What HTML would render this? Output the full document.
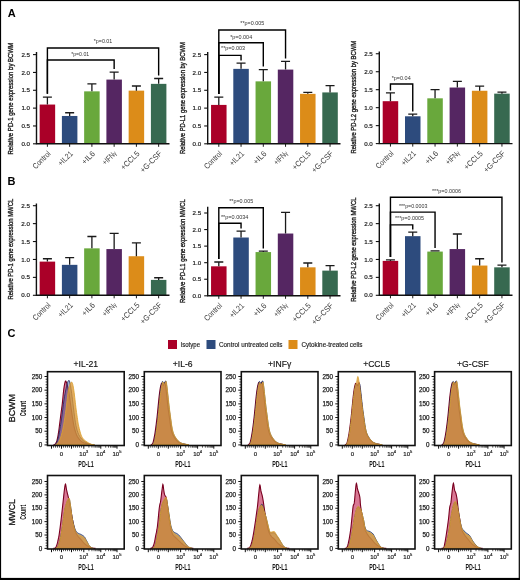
<!DOCTYPE html><html><head><meta charset="utf-8"><title>Figure</title><style>html,body{margin:0;padding:0;background:#fff;overflow:hidden}svg{display:block;filter:blur(0.3px)}text{font-family:"Liberation Sans",sans-serif}</style></head><body>
<svg width="520" height="580" viewBox="0 0 520 580">
<rect x="0" y="0" width="520" height="580" fill="#fff"/>
<text x="7.80" y="17.00" font-size="11" font-weight="bold" fill="#000">A</text>
<text x="7.60" y="185.30" font-size="11" font-weight="bold" fill="#000">B</text>
<text x="7.60" y="336.90" font-size="11" font-weight="bold" fill="#000">C</text>
<rect x="39.65" y="104.55" width="15.5" height="39.25" fill="#aa0028"/>
<path d="M47.40 104.55V97.06M42.90 97.06H51.90" stroke="#1a1a1a" stroke-width="1.3" fill="none"/>
<path d="M47.40 143.80V146.80" stroke="#1a1a1a" stroke-width="1"/>
<text x="51.10" y="154.20" font-size="8.0" text-anchor="end" textLength="21.66" lengthAdjust="spacingAndGlyphs" transform="rotate(-45 51.1 154.20000000000002)" fill="#3c3c3c">Control</text>
<rect x="61.90" y="115.97" width="15.5" height="27.83" fill="#2d4b7d"/>
<path d="M69.65 115.97V112.76M65.15 112.76H74.15" stroke="#1a1a1a" stroke-width="1.3" fill="none"/>
<path d="M69.65 143.80V146.80" stroke="#1a1a1a" stroke-width="1"/>
<text x="73.35" y="154.20" font-size="8.0" text-anchor="end" textLength="17.41" lengthAdjust="spacingAndGlyphs" transform="rotate(-45 73.35000000000001 154.20000000000002)" fill="#3c3c3c">+IL21</text>
<rect x="84.15" y="91.35" width="15.5" height="52.45" fill="#69a83c"/>
<path d="M91.90 91.35V83.86M87.40 83.86H96.40" stroke="#1a1a1a" stroke-width="1.3" fill="none"/>
<path d="M91.90 143.80V146.80" stroke="#1a1a1a" stroke-width="1"/>
<text x="95.60" y="154.20" font-size="8.0" text-anchor="end" textLength="15.32" lengthAdjust="spacingAndGlyphs" transform="rotate(-45 95.60000000000001 154.20000000000002)" fill="#3c3c3c">+IL6</text>
<rect x="106.40" y="79.58" width="15.5" height="64.22" fill="#552662"/>
<path d="M114.15 79.58V72.08M109.65 72.08H118.65" stroke="#1a1a1a" stroke-width="1.3" fill="none"/>
<path d="M114.15 143.80V146.80" stroke="#1a1a1a" stroke-width="1"/>
<text x="117.05" y="153.80" font-size="8.0" text-anchor="end" textLength="16.6" lengthAdjust="spacingAndGlyphs" transform="rotate(-45 117.05000000000001 153.8)" fill="#3c3c3c">+IFN<tspan font-size="6.5">&#947;</tspan></text>
<rect x="128.65" y="90.64" width="15.5" height="53.16" fill="#dc8c19"/>
<path d="M136.40 90.64V86.00M131.90 86.00H140.90" stroke="#1a1a1a" stroke-width="1.3" fill="none"/>
<path d="M136.40 143.80V146.80" stroke="#1a1a1a" stroke-width="1"/>
<text x="140.10" y="154.20" font-size="8.0" text-anchor="end" textLength="23.01" lengthAdjust="spacingAndGlyphs" transform="rotate(-45 140.1 154.20000000000002)" fill="#3c3c3c">+CCL5</text>
<rect x="150.90" y="83.86" width="15.5" height="59.94" fill="#376950"/>
<path d="M158.65 83.86V78.51M154.15 78.51H163.15" stroke="#1a1a1a" stroke-width="1.3" fill="none"/>
<path d="M158.65 143.80V146.80" stroke="#1a1a1a" stroke-width="1"/>
<text x="162.35" y="154.20" font-size="8.0" text-anchor="end" textLength="26.9" lengthAdjust="spacingAndGlyphs" transform="rotate(-45 162.35 154.20000000000002)" fill="#3c3c3c">+G-CSF</text>
<path d="M36.50 52.00V143.80H169.50" stroke="#111" stroke-width="1.4" fill="none"/>
<path d="M33.00 143.80H36.50" stroke="#111" stroke-width="1.1"/>
<text x="30.00" y="145.90" font-size="6.2" text-anchor="end" fill="#222" stroke="#222" stroke-width="0.2">0.0</text>
<path d="M33.00 125.96H36.50" stroke="#111" stroke-width="1.1"/>
<text x="30.00" y="128.06" font-size="6.2" text-anchor="end" fill="#222" stroke="#222" stroke-width="0.2">0.5</text>
<path d="M33.00 108.12H36.50" stroke="#111" stroke-width="1.1"/>
<text x="30.00" y="110.22" font-size="6.2" text-anchor="end" fill="#222" stroke="#222" stroke-width="0.2">1.0</text>
<path d="M33.00 90.28H36.50" stroke="#111" stroke-width="1.1"/>
<text x="30.00" y="92.38" font-size="6.2" text-anchor="end" fill="#222" stroke="#222" stroke-width="0.2">1.5</text>
<path d="M33.00 72.44H36.50" stroke="#111" stroke-width="1.1"/>
<text x="30.00" y="74.54" font-size="6.2" text-anchor="end" fill="#222" stroke="#222" stroke-width="0.2">2.0</text>
<path d="M33.00 54.60H36.50" stroke="#111" stroke-width="1.1"/>
<text x="30.00" y="56.70" font-size="6.2" text-anchor="end" fill="#222" stroke="#222" stroke-width="0.2">2.5</text>
<text x="13.20" y="98.70" font-size="8" text-anchor="middle" textLength="111.7" lengthAdjust="spacingAndGlyphs" transform="rotate(-90 13.2 98.7)" fill="#1a1a1a" stroke="#1a1a1a" stroke-width="0.35">Relative PD-1 gene expression by BCWM</text>
<path d="M47.40 93.70V48.00H158.65V75.50" stroke="#000" stroke-width="1.4" fill="none"/>
<text x="103.00" y="43.20" font-size="5.4" text-anchor="middle" textLength="18.5" lengthAdjust="spacingAndGlyphs" fill="#333">*p=0.01</text>
<path d="M47.40 93.70V60.00H114.15V69.00" stroke="#000" stroke-width="1.4" fill="none"/>
<text x="80.20" y="56.20" font-size="5.4" text-anchor="middle" textLength="18.0" lengthAdjust="spacingAndGlyphs" fill="#333">*p=0.01</text>
<rect x="211.05" y="104.91" width="15.5" height="38.89" fill="#aa0028"/>
<path d="M218.80 104.91V97.06M214.30 97.06H223.30" stroke="#1a1a1a" stroke-width="1.3" fill="none"/>
<path d="M218.80 143.80V146.80" stroke="#1a1a1a" stroke-width="1"/>
<text x="222.50" y="154.20" font-size="8.0" text-anchor="end" textLength="21.66" lengthAdjust="spacingAndGlyphs" transform="rotate(-45 222.5 154.20000000000002)" fill="#3c3c3c">Control</text>
<rect x="233.30" y="68.87" width="15.5" height="74.93" fill="#2d4b7d"/>
<path d="M241.05 68.87V63.16M236.55 63.16H245.55" stroke="#1a1a1a" stroke-width="1.3" fill="none"/>
<path d="M241.05 143.80V146.80" stroke="#1a1a1a" stroke-width="1"/>
<text x="244.75" y="154.20" font-size="8.0" text-anchor="end" textLength="17.41" lengthAdjust="spacingAndGlyphs" transform="rotate(-45 244.75 154.20000000000002)" fill="#3c3c3c">+IL21</text>
<rect x="255.55" y="81.36" width="15.5" height="62.44" fill="#69a83c"/>
<path d="M263.30 81.36V69.59M258.80 69.59H267.80" stroke="#1a1a1a" stroke-width="1.3" fill="none"/>
<path d="M263.30 143.80V146.80" stroke="#1a1a1a" stroke-width="1"/>
<text x="267.00" y="154.20" font-size="8.0" text-anchor="end" textLength="15.32" lengthAdjust="spacingAndGlyphs" transform="rotate(-45 267.0 154.20000000000002)" fill="#3c3c3c">+IL6</text>
<rect x="277.80" y="69.59" width="15.5" height="74.21" fill="#552662"/>
<path d="M285.55 69.59V61.38M281.05 61.38H290.05" stroke="#1a1a1a" stroke-width="1.3" fill="none"/>
<path d="M285.55 143.80V146.80" stroke="#1a1a1a" stroke-width="1"/>
<text x="288.45" y="153.80" font-size="8.0" text-anchor="end" textLength="16.6" lengthAdjust="spacingAndGlyphs" transform="rotate(-45 288.45 153.8)" fill="#3c3c3c">+IFN<tspan font-size="6.5">&#947;</tspan></text>
<rect x="300.05" y="93.85" width="15.5" height="49.95" fill="#dc8c19"/>
<path d="M307.80 93.85V92.42M303.30 92.42H312.30" stroke="#1a1a1a" stroke-width="1.3" fill="none"/>
<path d="M307.80 143.80V146.80" stroke="#1a1a1a" stroke-width="1"/>
<text x="311.50" y="154.20" font-size="8.0" text-anchor="end" textLength="23.01" lengthAdjust="spacingAndGlyphs" transform="rotate(-45 311.5 154.20000000000002)" fill="#3c3c3c">+CCL5</text>
<rect x="322.30" y="92.42" width="15.5" height="51.38" fill="#376950"/>
<path d="M330.05 92.42V85.64M325.55 85.64H334.55" stroke="#1a1a1a" stroke-width="1.3" fill="none"/>
<path d="M330.05 143.80V146.80" stroke="#1a1a1a" stroke-width="1"/>
<text x="333.75" y="154.20" font-size="8.0" text-anchor="end" textLength="26.9" lengthAdjust="spacingAndGlyphs" transform="rotate(-45 333.75 154.20000000000002)" fill="#3c3c3c">+G-CSF</text>
<path d="M207.70 52.00V143.80H340.50" stroke="#111" stroke-width="1.4" fill="none"/>
<path d="M204.20 143.80H207.70" stroke="#111" stroke-width="1.1"/>
<text x="201.20" y="145.90" font-size="6.2" text-anchor="end" fill="#222" stroke="#222" stroke-width="0.2">0.0</text>
<path d="M204.20 125.96H207.70" stroke="#111" stroke-width="1.1"/>
<text x="201.20" y="128.06" font-size="6.2" text-anchor="end" fill="#222" stroke="#222" stroke-width="0.2">0.5</text>
<path d="M204.20 108.12H207.70" stroke="#111" stroke-width="1.1"/>
<text x="201.20" y="110.22" font-size="6.2" text-anchor="end" fill="#222" stroke="#222" stroke-width="0.2">1.0</text>
<path d="M204.20 90.28H207.70" stroke="#111" stroke-width="1.1"/>
<text x="201.20" y="92.38" font-size="6.2" text-anchor="end" fill="#222" stroke="#222" stroke-width="0.2">1.5</text>
<path d="M204.20 72.44H207.70" stroke="#111" stroke-width="1.1"/>
<text x="201.20" y="74.54" font-size="6.2" text-anchor="end" fill="#222" stroke="#222" stroke-width="0.2">2.0</text>
<path d="M204.20 54.60H207.70" stroke="#111" stroke-width="1.1"/>
<text x="201.20" y="56.70" font-size="6.2" text-anchor="end" fill="#222" stroke="#222" stroke-width="0.2">2.5</text>
<text x="185.00" y="98.10" font-size="8" text-anchor="middle" textLength="111.9" lengthAdjust="spacingAndGlyphs" transform="rotate(-90 185 98.1)" fill="#1a1a1a" stroke="#1a1a1a" stroke-width="0.35">Relative PD-L1 gene expression by BCWM</text>
<path d="M218.80 94.00V30.00H285.55V58.50" stroke="#000" stroke-width="1.4" fill="none"/>
<text x="252.30" y="25.20" font-size="5.4" text-anchor="middle" textLength="24" lengthAdjust="spacingAndGlyphs" fill="#333">**p=0.005</text>
<path d="M218.80 94.00V42.70H263.30V66.50" stroke="#000" stroke-width="1.4" fill="none"/>
<text x="241.20" y="38.70" font-size="5.4" text-anchor="middle" textLength="22" lengthAdjust="spacingAndGlyphs" fill="#333">*p=0.004</text>
<path d="M218.80 94.00V55.40H241.05V60.50" stroke="#000" stroke-width="1.4" fill="none"/>
<text x="233.10" y="50.20" font-size="5.4" text-anchor="middle" textLength="24" lengthAdjust="spacingAndGlyphs" fill="#333">**p=0.003</text>
<rect x="382.70" y="101.19" width="15.5" height="42.41" fill="#aa0028"/>
<path d="M390.45 101.19V92.92M385.95 92.92H394.95" stroke="#1a1a1a" stroke-width="1.3" fill="none"/>
<path d="M390.45 143.60V146.60" stroke="#1a1a1a" stroke-width="1"/>
<text x="394.15" y="154.00" font-size="8.0" text-anchor="end" textLength="21.66" lengthAdjust="spacingAndGlyphs" transform="rotate(-45 394.15 154.0)" fill="#3c3c3c">Control</text>
<rect x="405.00" y="116.29" width="15.5" height="27.31" fill="#2d4b7d"/>
<path d="M412.75 116.29V114.13M408.25 114.13H417.25" stroke="#1a1a1a" stroke-width="1.3" fill="none"/>
<path d="M412.75 143.60V146.60" stroke="#1a1a1a" stroke-width="1"/>
<text x="416.45" y="154.00" font-size="8.0" text-anchor="end" textLength="17.41" lengthAdjust="spacingAndGlyphs" transform="rotate(-45 416.45 154.0)" fill="#3c3c3c">+IL21</text>
<rect x="427.30" y="98.32" width="15.5" height="45.28" fill="#69a83c"/>
<path d="M435.05 98.32V89.69M430.55 89.69H439.55" stroke="#1a1a1a" stroke-width="1.3" fill="none"/>
<path d="M435.05 143.60V146.60" stroke="#1a1a1a" stroke-width="1"/>
<text x="438.75" y="154.00" font-size="8.0" text-anchor="end" textLength="15.32" lengthAdjust="spacingAndGlyphs" transform="rotate(-45 438.75 154.0)" fill="#3c3c3c">+IL6</text>
<rect x="449.60" y="87.53" width="15.5" height="56.07" fill="#552662"/>
<path d="M457.35 87.53V81.42M452.85 81.42H461.85" stroke="#1a1a1a" stroke-width="1.3" fill="none"/>
<path d="M457.35 143.60V146.60" stroke="#1a1a1a" stroke-width="1"/>
<text x="460.25" y="153.60" font-size="8.0" text-anchor="end" textLength="16.6" lengthAdjust="spacingAndGlyphs" transform="rotate(-45 460.25 153.6)" fill="#3c3c3c">+IFN<tspan font-size="6.5">&#947;</tspan></text>
<rect x="471.90" y="90.77" width="15.5" height="52.83" fill="#dc8c19"/>
<path d="M479.65 90.77V86.10M475.15 86.10H484.15" stroke="#1a1a1a" stroke-width="1.3" fill="none"/>
<path d="M479.65 143.60V146.60" stroke="#1a1a1a" stroke-width="1"/>
<text x="483.35" y="154.00" font-size="8.0" text-anchor="end" textLength="23.01" lengthAdjust="spacingAndGlyphs" transform="rotate(-45 483.34999999999997 154.0)" fill="#3c3c3c">+CCL5</text>
<rect x="494.20" y="93.64" width="15.5" height="49.96" fill="#376950"/>
<path d="M501.95 93.64V92.21M497.45 92.21H506.45" stroke="#1a1a1a" stroke-width="1.3" fill="none"/>
<path d="M501.95 143.60V146.60" stroke="#1a1a1a" stroke-width="1"/>
<text x="505.65" y="154.00" font-size="8.0" text-anchor="end" textLength="26.9" lengthAdjust="spacingAndGlyphs" transform="rotate(-45 505.65 154.0)" fill="#3c3c3c">+G-CSF</text>
<path d="M379.30 51.50V143.60H512.50" stroke="#111" stroke-width="1.4" fill="none"/>
<path d="M375.80 143.60H379.30" stroke="#111" stroke-width="1.1"/>
<text x="372.80" y="145.70" font-size="6.2" text-anchor="end" fill="#222" stroke="#222" stroke-width="0.2">0.0</text>
<path d="M375.80 125.63H379.30" stroke="#111" stroke-width="1.1"/>
<text x="372.80" y="127.73" font-size="6.2" text-anchor="end" fill="#222" stroke="#222" stroke-width="0.2">0.5</text>
<path d="M375.80 107.66H379.30" stroke="#111" stroke-width="1.1"/>
<text x="372.80" y="109.76" font-size="6.2" text-anchor="end" fill="#222" stroke="#222" stroke-width="0.2">1.0</text>
<path d="M375.80 89.69H379.30" stroke="#111" stroke-width="1.1"/>
<text x="372.80" y="91.79" font-size="6.2" text-anchor="end" fill="#222" stroke="#222" stroke-width="0.2">1.5</text>
<path d="M375.80 71.72H379.30" stroke="#111" stroke-width="1.1"/>
<text x="372.80" y="73.82" font-size="6.2" text-anchor="end" fill="#222" stroke="#222" stroke-width="0.2">2.0</text>
<path d="M375.80 53.75H379.30" stroke="#111" stroke-width="1.1"/>
<text x="372.80" y="55.85" font-size="6.2" text-anchor="end" fill="#222" stroke="#222" stroke-width="0.2">2.5</text>
<text x="356.40" y="97.20" font-size="8" text-anchor="middle" textLength="112.8" lengthAdjust="spacingAndGlyphs" transform="rotate(-90 356.4 97.2)" fill="#1a1a1a" stroke="#1a1a1a" stroke-width="0.35">Relative PD-L2 gene expression by BCWM</text>
<path d="M390.45 90.50V84.00H412.75V111.50" stroke="#000" stroke-width="1.4" fill="none"/>
<text x="401.20" y="80.20" font-size="5.4" text-anchor="middle" textLength="19" lengthAdjust="spacingAndGlyphs" fill="#333">*p=0.04</text>
<rect x="39.65" y="261.61" width="15.5" height="33.69" fill="#aa0028"/>
<path d="M47.40 261.61V258.74M42.90 258.74H51.90" stroke="#1a1a1a" stroke-width="1.3" fill="none"/>
<path d="M47.40 295.30V298.30" stroke="#1a1a1a" stroke-width="1"/>
<text x="51.10" y="305.70" font-size="8.0" text-anchor="end" textLength="21.66" lengthAdjust="spacingAndGlyphs" transform="rotate(-45 51.1 305.7)" fill="#3c3c3c">Control</text>
<rect x="61.90" y="264.84" width="15.5" height="30.46" fill="#2d4b7d"/>
<path d="M69.65 264.84V257.67M65.15 257.67H74.15" stroke="#1a1a1a" stroke-width="1.3" fill="none"/>
<path d="M69.65 295.30V298.30" stroke="#1a1a1a" stroke-width="1"/>
<text x="73.35" y="305.70" font-size="8.0" text-anchor="end" textLength="17.41" lengthAdjust="spacingAndGlyphs" transform="rotate(-45 73.35000000000001 305.7)" fill="#3c3c3c">+IL21</text>
<rect x="84.15" y="248.35" width="15.5" height="46.95" fill="#69a83c"/>
<path d="M91.90 248.35V236.52M87.40 236.52H96.40" stroke="#1a1a1a" stroke-width="1.3" fill="none"/>
<path d="M91.90 295.30V298.30" stroke="#1a1a1a" stroke-width="1"/>
<text x="95.60" y="305.70" font-size="8.0" text-anchor="end" textLength="15.32" lengthAdjust="spacingAndGlyphs" transform="rotate(-45 95.60000000000001 305.7)" fill="#3c3c3c">+IL6</text>
<rect x="106.40" y="249.07" width="15.5" height="46.23" fill="#552662"/>
<path d="M114.15 249.07V233.30M109.65 233.30H118.65" stroke="#1a1a1a" stroke-width="1.3" fill="none"/>
<path d="M114.15 295.30V298.30" stroke="#1a1a1a" stroke-width="1"/>
<text x="117.05" y="305.30" font-size="8.0" text-anchor="end" textLength="16.6" lengthAdjust="spacingAndGlyphs" transform="rotate(-45 117.05000000000001 305.3)" fill="#3c3c3c">+IFN<tspan font-size="6.5">&#947;</tspan></text>
<rect x="128.65" y="256.23" width="15.5" height="39.07" fill="#dc8c19"/>
<path d="M136.40 256.23V242.97M131.90 242.97H140.90" stroke="#1a1a1a" stroke-width="1.3" fill="none"/>
<path d="M136.40 295.30V298.30" stroke="#1a1a1a" stroke-width="1"/>
<text x="140.10" y="305.70" font-size="8.0" text-anchor="end" textLength="23.01" lengthAdjust="spacingAndGlyphs" transform="rotate(-45 140.1 305.7)" fill="#3c3c3c">+CCL5</text>
<rect x="150.90" y="279.89" width="15.5" height="15.41" fill="#376950"/>
<path d="M158.65 279.89V277.74M154.15 277.74H163.15" stroke="#1a1a1a" stroke-width="1.3" fill="none"/>
<path d="M158.65 295.30V298.30" stroke="#1a1a1a" stroke-width="1"/>
<text x="162.35" y="305.70" font-size="8.0" text-anchor="end" textLength="26.9" lengthAdjust="spacingAndGlyphs" transform="rotate(-45 162.35 305.7)" fill="#3c3c3c">+G-CSF</text>
<path d="M36.40 203.50V295.30H169.50" stroke="#111" stroke-width="1.4" fill="none"/>
<path d="M32.90 295.30H36.40" stroke="#111" stroke-width="1.1"/>
<text x="29.90" y="297.40" font-size="6.2" text-anchor="end" fill="#222" stroke="#222" stroke-width="0.2">0.0</text>
<path d="M32.90 277.38H36.40" stroke="#111" stroke-width="1.1"/>
<text x="29.90" y="279.48" font-size="6.2" text-anchor="end" fill="#222" stroke="#222" stroke-width="0.2">0.5</text>
<path d="M32.90 259.46H36.40" stroke="#111" stroke-width="1.1"/>
<text x="29.90" y="261.56" font-size="6.2" text-anchor="end" fill="#222" stroke="#222" stroke-width="0.2">1.0</text>
<path d="M32.90 241.54H36.40" stroke="#111" stroke-width="1.1"/>
<text x="29.90" y="243.64" font-size="6.2" text-anchor="end" fill="#222" stroke="#222" stroke-width="0.2">1.5</text>
<path d="M32.90 223.62H36.40" stroke="#111" stroke-width="1.1"/>
<text x="29.90" y="225.72" font-size="6.2" text-anchor="end" fill="#222" stroke="#222" stroke-width="0.2">2.0</text>
<path d="M32.90 205.70H36.40" stroke="#111" stroke-width="1.1"/>
<text x="29.90" y="207.80" font-size="6.2" text-anchor="end" fill="#222" stroke="#222" stroke-width="0.2">2.5</text>
<text x="13.20" y="249.20" font-size="8" text-anchor="middle" textLength="100.7" lengthAdjust="spacingAndGlyphs" transform="rotate(-90 13.2 249.2)" fill="#1a1a1a" stroke="#1a1a1a" stroke-width="0.35">Relative PD-1 gene expression MWCL</text>
<rect x="211.05" y="266.32" width="15.5" height="29.48" fill="#aa0028"/>
<path d="M218.80 266.32V262.02M214.30 262.02H223.30" stroke="#1a1a1a" stroke-width="1.3" fill="none"/>
<path d="M218.80 295.80V298.80" stroke="#1a1a1a" stroke-width="1"/>
<text x="222.50" y="306.20" font-size="8.0" text-anchor="end" textLength="21.66" lengthAdjust="spacingAndGlyphs" transform="rotate(-45 222.5 306.2)" fill="#3c3c3c">Control</text>
<rect x="233.30" y="237.51" width="15.5" height="58.29" fill="#2d4b7d"/>
<path d="M241.05 237.51V231.22M236.55 231.22H245.55" stroke="#1a1a1a" stroke-width="1.3" fill="none"/>
<path d="M241.05 295.80V298.80" stroke="#1a1a1a" stroke-width="1"/>
<text x="244.75" y="306.20" font-size="8.0" text-anchor="end" textLength="17.41" lengthAdjust="spacingAndGlyphs" transform="rotate(-45 244.75 306.2)" fill="#3c3c3c">+IL21</text>
<rect x="255.55" y="252.08" width="15.5" height="43.72" fill="#69a83c"/>
<path d="M263.30 252.08V251.09M258.80 251.09H267.80" stroke="#1a1a1a" stroke-width="1.3" fill="none"/>
<path d="M263.30 295.80V298.80" stroke="#1a1a1a" stroke-width="1"/>
<text x="267.00" y="306.20" font-size="8.0" text-anchor="end" textLength="15.32" lengthAdjust="spacingAndGlyphs" transform="rotate(-45 267.0 306.2)" fill="#3c3c3c">+IL6</text>
<rect x="277.80" y="233.53" width="15.5" height="62.27" fill="#552662"/>
<path d="M285.55 233.53V212.34M281.05 212.34H290.05" stroke="#1a1a1a" stroke-width="1.3" fill="none"/>
<path d="M285.55 295.80V298.80" stroke="#1a1a1a" stroke-width="1"/>
<text x="288.45" y="305.80" font-size="8.0" text-anchor="end" textLength="16.6" lengthAdjust="spacingAndGlyphs" transform="rotate(-45 288.45 305.8)" fill="#3c3c3c">+IFN<tspan font-size="6.5">&#947;</tspan></text>
<rect x="300.05" y="267.32" width="15.5" height="28.48" fill="#dc8c19"/>
<path d="M307.80 267.32V263.01M303.30 263.01H312.30" stroke="#1a1a1a" stroke-width="1.3" fill="none"/>
<path d="M307.80 295.80V298.80" stroke="#1a1a1a" stroke-width="1"/>
<text x="311.50" y="306.20" font-size="8.0" text-anchor="end" textLength="23.01" lengthAdjust="spacingAndGlyphs" transform="rotate(-45 311.5 306.2)" fill="#3c3c3c">+CCL5</text>
<rect x="322.30" y="270.63" width="15.5" height="25.17" fill="#376950"/>
<path d="M330.05 270.63V265.66M325.55 265.66H334.55" stroke="#1a1a1a" stroke-width="1.3" fill="none"/>
<path d="M330.05 295.80V298.80" stroke="#1a1a1a" stroke-width="1"/>
<text x="333.75" y="306.20" font-size="8.0" text-anchor="end" textLength="26.9" lengthAdjust="spacingAndGlyphs" transform="rotate(-45 333.75 306.2)" fill="#3c3c3c">+G-CSF</text>
<path d="M207.70 206.80V295.80H340.50" stroke="#111" stroke-width="1.4" fill="none"/>
<path d="M204.20 295.80H207.70" stroke="#111" stroke-width="1.1"/>
<text x="201.20" y="297.90" font-size="6.2" text-anchor="end" fill="#222" stroke="#222" stroke-width="0.2">0.0</text>
<path d="M204.20 279.24H207.70" stroke="#111" stroke-width="1.1"/>
<text x="201.20" y="281.34" font-size="6.2" text-anchor="end" fill="#222" stroke="#222" stroke-width="0.2">0.5</text>
<path d="M204.20 262.68H207.70" stroke="#111" stroke-width="1.1"/>
<text x="201.20" y="264.78" font-size="6.2" text-anchor="end" fill="#222" stroke="#222" stroke-width="0.2">1.0</text>
<path d="M204.20 246.12H207.70" stroke="#111" stroke-width="1.1"/>
<text x="201.20" y="248.22" font-size="6.2" text-anchor="end" fill="#222" stroke="#222" stroke-width="0.2">1.5</text>
<path d="M204.20 229.56H207.70" stroke="#111" stroke-width="1.1"/>
<text x="201.20" y="231.66" font-size="6.2" text-anchor="end" fill="#222" stroke="#222" stroke-width="0.2">2.0</text>
<path d="M204.20 213.00H207.70" stroke="#111" stroke-width="1.1"/>
<text x="201.20" y="215.10" font-size="6.2" text-anchor="end" fill="#222" stroke="#222" stroke-width="0.2">2.5</text>
<text x="185.00" y="251.10" font-size="8" text-anchor="middle" textLength="103.6" lengthAdjust="spacingAndGlyphs" transform="rotate(-90 185 251.1)" fill="#1a1a1a" stroke="#1a1a1a" stroke-width="0.35">Relative PD-L1 gene expression MWCL</text>
<path d="M218.80 259.00V207.80H263.30V248.50" stroke="#000" stroke-width="1.4" fill="none"/>
<text x="241.20" y="203.40" font-size="5.4" text-anchor="middle" textLength="24" lengthAdjust="spacingAndGlyphs" fill="#333">**p=0.005</text>
<path d="M218.80 259.00V223.20H241.05V228.50" stroke="#000" stroke-width="1.4" fill="none"/>
<text x="234.70" y="218.80" font-size="5.4" text-anchor="middle" textLength="27.5" lengthAdjust="spacingAndGlyphs" fill="#333">**p=0.0034</text>
<rect x="382.70" y="260.89" width="15.5" height="34.41" fill="#aa0028"/>
<path d="M390.45 260.89V259.82M385.95 259.82H394.95" stroke="#1a1a1a" stroke-width="1.3" fill="none"/>
<path d="M390.45 295.30V298.30" stroke="#1a1a1a" stroke-width="1"/>
<text x="394.15" y="305.70" font-size="8.0" text-anchor="end" textLength="21.66" lengthAdjust="spacingAndGlyphs" transform="rotate(-45 394.15 305.7)" fill="#3c3c3c">Control</text>
<rect x="405.00" y="236.16" width="15.5" height="59.14" fill="#2d4b7d"/>
<path d="M412.75 236.16V232.22M408.25 232.22H417.25" stroke="#1a1a1a" stroke-width="1.3" fill="none"/>
<path d="M412.75 295.30V298.30" stroke="#1a1a1a" stroke-width="1"/>
<text x="416.45" y="305.70" font-size="8.0" text-anchor="end" textLength="17.41" lengthAdjust="spacingAndGlyphs" transform="rotate(-45 416.45 305.7)" fill="#3c3c3c">+IL21</text>
<rect x="427.30" y="251.58" width="15.5" height="43.72" fill="#69a83c"/>
<path d="M435.05 251.58V250.86M430.55 250.86H439.55" stroke="#1a1a1a" stroke-width="1.3" fill="none"/>
<path d="M435.05 295.30V298.30" stroke="#1a1a1a" stroke-width="1"/>
<text x="438.75" y="305.70" font-size="8.0" text-anchor="end" textLength="15.32" lengthAdjust="spacingAndGlyphs" transform="rotate(-45 438.75 305.7)" fill="#3c3c3c">+IL6</text>
<rect x="449.60" y="249.07" width="15.5" height="46.23" fill="#552662"/>
<path d="M457.35 249.07V234.01M452.85 234.01H461.85" stroke="#1a1a1a" stroke-width="1.3" fill="none"/>
<path d="M457.35 295.30V298.30" stroke="#1a1a1a" stroke-width="1"/>
<text x="460.25" y="305.30" font-size="8.0" text-anchor="end" textLength="16.6" lengthAdjust="spacingAndGlyphs" transform="rotate(-45 460.25 305.3)" fill="#3c3c3c">+IFN<tspan font-size="6.5">&#947;</tspan></text>
<rect x="471.90" y="265.55" width="15.5" height="29.75" fill="#dc8c19"/>
<path d="M479.65 265.55V258.74M475.15 258.74H484.15" stroke="#1a1a1a" stroke-width="1.3" fill="none"/>
<path d="M479.65 295.30V298.30" stroke="#1a1a1a" stroke-width="1"/>
<text x="483.35" y="305.70" font-size="8.0" text-anchor="end" textLength="23.01" lengthAdjust="spacingAndGlyphs" transform="rotate(-45 483.34999999999997 305.7)" fill="#3c3c3c">+CCL5</text>
<rect x="494.20" y="267.34" width="15.5" height="27.96" fill="#376950"/>
<path d="M501.95 267.34V265.19M497.45 265.19H506.45" stroke="#1a1a1a" stroke-width="1.3" fill="none"/>
<path d="M501.95 295.30V298.30" stroke="#1a1a1a" stroke-width="1"/>
<text x="505.65" y="305.70" font-size="8.0" text-anchor="end" textLength="26.9" lengthAdjust="spacingAndGlyphs" transform="rotate(-45 505.65 305.7)" fill="#3c3c3c">+G-CSF</text>
<path d="M379.30 203.50V295.30H512.50" stroke="#111" stroke-width="1.4" fill="none"/>
<path d="M375.80 295.30H379.30" stroke="#111" stroke-width="1.1"/>
<text x="372.80" y="297.40" font-size="6.2" text-anchor="end" fill="#222" stroke="#222" stroke-width="0.2">0.0</text>
<path d="M375.80 277.38H379.30" stroke="#111" stroke-width="1.1"/>
<text x="372.80" y="279.48" font-size="6.2" text-anchor="end" fill="#222" stroke="#222" stroke-width="0.2">0.5</text>
<path d="M375.80 259.46H379.30" stroke="#111" stroke-width="1.1"/>
<text x="372.80" y="261.56" font-size="6.2" text-anchor="end" fill="#222" stroke="#222" stroke-width="0.2">1.0</text>
<path d="M375.80 241.54H379.30" stroke="#111" stroke-width="1.1"/>
<text x="372.80" y="243.64" font-size="6.2" text-anchor="end" fill="#222" stroke="#222" stroke-width="0.2">1.5</text>
<path d="M375.80 223.62H379.30" stroke="#111" stroke-width="1.1"/>
<text x="372.80" y="225.72" font-size="6.2" text-anchor="end" fill="#222" stroke="#222" stroke-width="0.2">2.0</text>
<path d="M375.80 205.70H379.30" stroke="#111" stroke-width="1.1"/>
<text x="372.80" y="207.80" font-size="6.2" text-anchor="end" fill="#222" stroke="#222" stroke-width="0.2">2.5</text>
<text x="356.40" y="249.60" font-size="8" text-anchor="middle" textLength="104.1" lengthAdjust="spacingAndGlyphs" transform="rotate(-90 356.4 249.6)" fill="#1a1a1a" stroke="#1a1a1a" stroke-width="0.35">Relative PD-L2 gene expression MWCL</text>
<path d="M390.45 257.00V197.30H501.95V262.50" stroke="#000" stroke-width="1.4" fill="none"/>
<text x="446.50" y="192.80" font-size="5.4" text-anchor="middle" textLength="29" lengthAdjust="spacingAndGlyphs" fill="#333">***p=0.0006</text>
<path d="M390.45 257.00V212.10H435.05V248.00" stroke="#000" stroke-width="1.4" fill="none"/>
<text x="413.20" y="207.60" font-size="5.4" text-anchor="middle" textLength="28.5" lengthAdjust="spacingAndGlyphs" fill="#333">***p=0.0003</text>
<path d="M390.45 257.00V224.90H412.75V229.50" stroke="#000" stroke-width="1.4" fill="none"/>
<text x="409.50" y="220.10" font-size="5.4" text-anchor="middle" textLength="29" lengthAdjust="spacingAndGlyphs" fill="#333">***p=0.0005</text>
<clipPath id="c47_371"><rect x="47.5" y="371.7" width="76.7" height="73.8"/></clipPath>
<g clip-path="url(#c47_371)">
<path d="M53.50 444.90L53.50 444.90L53.77 444.79L54.15 444.64L54.58 444.42L55.00 444.08L55.39 443.70L55.79 443.28L56.19 442.64L56.60 441.62L57.02 440.15L57.46 438.33L57.89 436.24L58.30 433.96L58.69 431.38L59.08 428.50L59.44 425.55L59.80 422.74L60.14 420.10L60.47 417.54L60.79 415.04L61.10 412.62L61.40 410.37L61.70 408.27L62.00 406.09L62.30 403.59L62.62 400.49L62.96 397.00L63.29 393.59L63.60 390.73L63.87 388.56L64.12 386.83L64.36 385.40L64.60 384.16L64.83 383.06L65.05 382.16L65.27 381.51L65.50 381.15L65.74 381.13L65.99 381.42L66.25 381.92L66.50 382.52L66.74 383.18L66.97 383.96L67.21 384.90L67.50 386.08L67.84 387.46L68.22 389.03L68.61 390.84L69.00 392.92L69.36 395.30L69.72 397.96L70.09 400.84L70.50 403.86L70.96 407.15L71.47 410.70L71.99 414.25L72.50 417.54L72.98 420.53L73.44 423.35L73.93 426.00L74.50 428.48L75.13 430.79L75.81 432.93L76.59 434.90L77.50 436.69L78.56 438.33L79.75 439.80L81.06 441.09L82.50 442.16L84.18 442.98L86.06 443.57L87.91 444.00L89.50 444.35L90.80 444.62L91.94 444.76L92.85 444.84L93.50 444.90L93.50 444.90Z" fill="#b90a3c" fill-opacity="0.55" stroke="#7a0020" stroke-opacity="1.0" stroke-width="1.1"/>
<path d="M54.50 444.90L54.50 444.90L54.86 444.72L55.38 444.49L55.95 444.05L56.50 443.26L57.01 442.00L57.53 440.39L58.04 438.56L58.50 436.69L58.91 434.79L59.28 432.78L59.64 430.67L60.00 428.48L60.35 426.41L60.69 424.38L61.05 422.01L61.50 418.91L62.07 414.60L62.72 409.42L63.39 404.19L64.00 399.76L64.55 396.33L65.06 393.48L65.55 391.03L66.00 388.81L66.41 386.82L66.78 385.12L67.14 383.69L67.50 382.52L67.89 381.57L68.28 380.86L68.66 380.44L69.00 380.33L69.29 380.60L69.53 381.20L69.76 382.06L70.00 383.07L70.24 384.17L70.47 385.43L70.71 386.94L71.00 388.81L71.33 391.05L71.69 393.62L72.08 396.51L72.50 399.76L72.96 403.58L73.47 407.91L73.99 412.27L74.50 416.17L74.98 419.52L75.44 422.57L75.93 425.35L76.50 427.94L77.13 430.30L77.81 432.43L78.59 434.37L79.50 436.14L80.59 437.77L81.81 439.22L83.13 440.51L84.50 441.62L85.98 442.54L87.56 443.29L89.12 443.89L90.50 444.35L91.73 444.66L92.88 444.80L93.83 444.85L94.50 444.90L94.50 444.90Z" fill="#284696" fill-opacity="0.45" stroke="#1a2a60" stroke-opacity="0.9" stroke-width="0.9"/>
<path d="M55.50 444.90L55.50 444.90L55.84 444.69L56.31 444.40L56.88 443.96L57.50 443.26L58.18 442.38L58.94 441.33L59.73 439.94L60.50 438.06L61.26 435.58L62.03 432.61L62.79 429.28L63.50 425.75L64.17 421.93L64.81 417.80L65.42 413.53L66.00 409.33L66.54 405.05L67.03 400.65L67.51 396.48L68.00 392.92L68.51 390.03L69.02 387.63L69.52 385.69L70.00 384.16L70.46 383.11L70.91 382.54L71.33 382.29L71.70 382.25L71.99 382.35L72.23 382.67L72.45 383.27L72.70 384.16L72.99 385.42L73.29 387.00L73.60 388.80L73.90 390.73L74.18 392.79L74.45 395.02L74.72 397.36L75.00 399.76L75.29 402.22L75.58 404.77L75.88 407.34L76.20 409.88L76.54 412.43L76.90 415.01L77.26 417.48L77.60 419.73L77.89 421.61L78.14 423.23L78.43 424.81L78.80 426.57L79.30 428.68L79.88 430.98L80.49 433.20L81.10 435.05L81.69 436.43L82.29 437.50L82.89 438.37L83.50 439.15L84.06 439.82L84.59 440.33L85.20 440.80L86.00 441.34L87.09 442.03L88.38 442.80L89.71 443.52L90.90 444.08L91.98 444.44L93.01 444.66L93.88 444.80L94.50 444.90L94.50 444.90Z" fill="#dc9632" fill-opacity="0.77" stroke="#dba234" stroke-opacity="0.95" stroke-width="0.9"/>
</g>
<rect x="47.50" y="371.70" width="76.70" height="73.80" fill="none" stroke="#111" stroke-width="1.6"/>
<path d="M44.50 444.90H47.50" stroke="#111" stroke-width="1.0"/>
<text x="42.30" y="447.10" font-size="6.3" text-anchor="end" fill="#222" stroke="#222" stroke-width="0.25">0</text>
<path d="M45.60 442.16H47.50" stroke="#111" stroke-width="0.8"/>
<path d="M45.60 439.43H47.50" stroke="#111" stroke-width="0.8"/>
<path d="M45.60 436.69H47.50" stroke="#111" stroke-width="0.8"/>
<path d="M45.60 433.96H47.50" stroke="#111" stroke-width="0.8"/>
<path d="M44.50 431.22H47.50" stroke="#111" stroke-width="1.0"/>
<text x="42.30" y="433.42" font-size="6.3" text-anchor="end" fill="#222" stroke="#222" stroke-width="0.25">50</text>
<path d="M45.60 428.48H47.50" stroke="#111" stroke-width="0.8"/>
<path d="M45.60 425.75H47.50" stroke="#111" stroke-width="0.8"/>
<path d="M45.60 423.01H47.50" stroke="#111" stroke-width="0.8"/>
<path d="M45.60 420.28H47.50" stroke="#111" stroke-width="0.8"/>
<path d="M44.50 417.54H47.50" stroke="#111" stroke-width="1.0"/>
<text x="42.30" y="419.74" font-size="6.3" text-anchor="end" fill="#222" stroke="#222" stroke-width="0.25">100</text>
<path d="M45.60 414.80H47.50" stroke="#111" stroke-width="0.8"/>
<path d="M45.60 412.07H47.50" stroke="#111" stroke-width="0.8"/>
<path d="M45.60 409.33H47.50" stroke="#111" stroke-width="0.8"/>
<path d="M45.60 406.60H47.50" stroke="#111" stroke-width="0.8"/>
<path d="M44.50 403.86H47.50" stroke="#111" stroke-width="1.0"/>
<text x="42.30" y="406.06" font-size="6.3" text-anchor="end" fill="#222" stroke="#222" stroke-width="0.25">150</text>
<path d="M45.60 401.12H47.50" stroke="#111" stroke-width="0.8"/>
<path d="M45.60 398.39H47.50" stroke="#111" stroke-width="0.8"/>
<path d="M45.60 395.65H47.50" stroke="#111" stroke-width="0.8"/>
<path d="M45.60 392.92H47.50" stroke="#111" stroke-width="0.8"/>
<path d="M44.50 390.18H47.50" stroke="#111" stroke-width="1.0"/>
<text x="42.30" y="392.38" font-size="6.3" text-anchor="end" fill="#222" stroke="#222" stroke-width="0.25">200</text>
<path d="M45.60 387.44H47.50" stroke="#111" stroke-width="0.8"/>
<path d="M45.60 384.71H47.50" stroke="#111" stroke-width="0.8"/>
<path d="M45.60 381.97H47.50" stroke="#111" stroke-width="0.8"/>
<path d="M45.60 379.24H47.50" stroke="#111" stroke-width="0.8"/>
<path d="M44.50 376.50H47.50" stroke="#111" stroke-width="1.0"/>
<text x="42.30" y="378.70" font-size="6.3" text-anchor="end" fill="#222" stroke="#222" stroke-width="0.25">250</text>
<path d="M51.50 445.50V448.70" stroke="#111" stroke-width="1.0"/>
<path d="M61.50 445.50V448.70" stroke="#111" stroke-width="1.0"/>
<path d="M71.50 445.50V448.70" stroke="#111" stroke-width="1.0"/>
<path d="M83.80 445.50V448.70" stroke="#111" stroke-width="1.0"/>
<path d="M100.80 445.50V448.70" stroke="#111" stroke-width="1.0"/>
<path d="M117.00 445.50V448.70" stroke="#111" stroke-width="1.0"/>
<path d="M88.92 445.50V447.70" stroke="#111" stroke-width="0.7"/>
<path d="M91.91 445.50V447.70" stroke="#111" stroke-width="0.7"/>
<path d="M94.04 445.50V447.70" stroke="#111" stroke-width="0.7"/>
<path d="M95.68 445.50V447.70" stroke="#111" stroke-width="0.7"/>
<path d="M97.03 445.50V447.70" stroke="#111" stroke-width="0.7"/>
<path d="M98.17 445.50V447.70" stroke="#111" stroke-width="0.7"/>
<path d="M99.15 445.50V447.70" stroke="#111" stroke-width="0.7"/>
<path d="M100.02 445.50V447.70" stroke="#111" stroke-width="0.7"/>
<path d="M105.68 445.50V447.70" stroke="#111" stroke-width="0.7"/>
<path d="M108.53 445.50V447.70" stroke="#111" stroke-width="0.7"/>
<path d="M110.55 445.50V447.70" stroke="#111" stroke-width="0.7"/>
<path d="M112.12 445.50V447.70" stroke="#111" stroke-width="0.7"/>
<path d="M113.41 445.50V447.70" stroke="#111" stroke-width="0.7"/>
<path d="M114.49 445.50V447.70" stroke="#111" stroke-width="0.7"/>
<path d="M115.43 445.50V447.70" stroke="#111" stroke-width="0.7"/>
<path d="M116.26 445.50V447.70" stroke="#111" stroke-width="0.7"/>
<path d="M73.50 445.50V447.70" stroke="#111" stroke-width="0.7"/>
<path d="M75.50 445.50V447.70" stroke="#111" stroke-width="0.7"/>
<path d="M77.50 445.50V447.70" stroke="#111" stroke-width="0.7"/>
<path d="M79.50 445.50V447.70" stroke="#111" stroke-width="0.7"/>
<path d="M81.50 445.50V447.70" stroke="#111" stroke-width="0.7"/>
<path d="M53.50 445.50V447.70" stroke="#111" stroke-width="0.7"/>
<path d="M55.50 445.50V447.70" stroke="#111" stroke-width="0.7"/>
<path d="M57.50 445.50V447.70" stroke="#111" stroke-width="0.7"/>
<path d="M59.50 445.50V447.70" stroke="#111" stroke-width="0.7"/>
<path d="M63.50 445.50V447.70" stroke="#111" stroke-width="0.7"/>
<path d="M65.50 445.50V447.70" stroke="#111" stroke-width="0.7"/>
<path d="M67.50 445.50V447.70" stroke="#111" stroke-width="0.7"/>
<path d="M69.50 445.50V447.70" stroke="#111" stroke-width="0.7"/>
<text x="61.50" y="455.50" font-size="6.0" text-anchor="middle" fill="#222" stroke="#222" stroke-width="0.2">0</text>
<text x="83.80" y="455.50" font-size="6.0" text-anchor="middle" fill="#222" stroke="#222" stroke-width="0.2">10<tspan font-size="4" dy="-2.6">3</tspan></text>
<text x="100.80" y="455.50" font-size="6.0" text-anchor="middle" fill="#222" stroke="#222" stroke-width="0.2">10<tspan font-size="4" dy="-2.6">4</tspan></text>
<text x="117.00" y="455.50" font-size="6.0" text-anchor="middle" fill="#222" stroke="#222" stroke-width="0.2">10<tspan font-size="4" dy="-2.6">5</tspan></text>
<text x="86.05" y="466.70" font-size="9" text-anchor="middle" font-weight="bold" textLength="15.4" lengthAdjust="spacingAndGlyphs" fill="#1a1a1a">PD-L1</text>
<text x="85.85" y="366.90" font-size="8.6" text-anchor="middle" fill="#111" stroke="#111" stroke-width="0.15">+IL-21</text>
<clipPath id="c144_371"><rect x="144.3" y="371.7" width="76.7" height="73.8"/></clipPath>
<g clip-path="url(#c144_371)">
<path d="M151.20 444.90L151.20 444.90L151.38 444.73L151.64 444.50L151.93 444.20L152.20 443.84L152.45 443.43L152.70 442.98L152.95 442.42L153.20 441.72L153.45 440.84L153.70 439.82L153.95 438.69L154.20 437.47L154.45 436.16L154.70 434.75L154.95 433.24L155.20 431.63L155.45 429.91L155.70 428.08L155.95 426.17L156.20 424.20L156.45 422.19L156.70 420.12L156.95 417.97L157.20 415.71L157.45 413.29L157.70 410.75L157.95 408.16L158.20 405.62L158.45 403.09L158.70 400.53L158.95 398.06L159.20 395.80L159.45 393.74L159.71 391.84L159.96 390.12L160.20 388.64L160.42 387.42L160.62 386.43L160.81 385.62L161.00 384.92L161.16 384.29L161.31 383.76L161.47 383.42L161.70 383.33L162.01 383.71L162.39 384.46L162.79 385.17L163.20 385.45L163.63 384.93L164.08 383.89L164.52 382.98L164.90 382.80L165.20 383.57L165.44 384.94L165.66 386.70L165.90 388.64L166.17 390.79L166.44 393.25L166.72 395.85L167.00 398.46L167.30 401.12L167.60 403.88L167.90 406.59L168.20 409.07L168.48 411.23L168.75 413.17L169.02 415.05L169.30 417.03L169.59 419.24L169.89 421.55L170.20 423.79L170.50 425.79L170.79 427.50L171.08 429.01L171.38 430.37L171.70 431.63L172.05 432.79L172.43 433.84L172.82 434.77L173.20 435.61L173.57 436.33L173.94 436.92L174.32 437.46L174.70 438.00L175.09 438.56L175.48 439.09L175.88 439.62L176.30 440.12L176.74 440.62L177.19 441.10L177.68 441.56L178.20 441.98L178.77 442.36L179.38 442.71L180.03 443.03L180.70 443.31L181.39 443.54L182.11 443.74L182.87 443.92L183.70 444.10L184.72 444.32L185.89 444.55L186.96 444.76L187.70 444.90L187.70 444.90Z" fill="#b90a3c" fill-opacity="0.55" stroke="#7a0020" stroke-opacity="1.0" stroke-width="1.1"/>
<path d="M152.10 444.90L152.10 444.90L152.28 444.73L152.54 444.49L152.83 444.18L153.10 443.81L153.35 443.39L153.60 442.92L153.85 442.34L154.10 441.62L154.35 440.71L154.60 439.67L154.85 438.50L155.10 437.24L155.35 435.89L155.60 434.43L155.85 432.88L156.10 431.22L156.35 429.45L156.60 427.56L156.85 425.59L157.10 423.56L157.35 421.49L157.60 419.35L157.85 417.13L158.10 414.80L158.35 412.31L158.60 409.69L158.85 407.03L159.10 404.41L159.35 401.79L159.60 399.16L159.85 396.62L160.10 394.28L160.35 392.16L160.61 390.20L160.86 388.43L161.10 386.90L161.32 385.64L161.52 384.62L161.71 383.79L161.90 383.07L162.06 382.41L162.21 381.87L162.37 381.51L162.60 381.42L162.91 381.82L163.29 382.59L163.69 383.32L164.10 383.61L164.53 383.07L164.98 382.01L165.42 381.06L165.80 380.88L166.10 381.67L166.34 383.08L166.56 384.90L166.80 386.90L167.07 389.12L167.34 391.65L167.62 394.34L167.90 397.02L168.20 399.76L168.50 402.61L168.80 405.40L169.10 407.96L169.38 410.19L169.65 412.19L169.92 414.13L170.20 416.17L170.49 418.44L170.79 420.82L171.10 423.14L171.40 425.20L171.69 426.96L171.98 428.52L172.28 429.92L172.60 431.22L172.95 432.42L173.33 433.49L173.72 434.46L174.10 435.32L174.47 436.06L174.84 436.67L175.22 437.23L175.60 437.79L175.99 438.36L176.38 438.91L176.78 439.45L177.20 439.98L177.64 440.49L178.09 440.98L178.58 441.46L179.10 441.89L179.67 442.28L180.28 442.64L180.93 442.97L181.60 443.26L182.29 443.50L183.01 443.70L183.77 443.89L184.60 444.08L185.62 444.30L186.79 444.54L187.86 444.75L188.60 444.90L188.60 444.90Z" fill="#284696" fill-opacity="0.45" stroke="#1a2a60" stroke-opacity="0.9" stroke-width="0.9"/>
<path d="M152.40 444.90L152.40 444.90L152.58 444.73L152.84 444.49L153.13 444.19L153.40 443.82L153.65 443.40L153.90 442.94L154.15 442.37L154.40 441.65L154.65 440.76L154.90 439.72L155.15 438.56L155.40 437.32L155.65 435.98L155.90 434.54L156.15 433.00L156.40 431.36L156.65 429.60L156.90 427.73L157.15 425.78L157.40 423.77L157.65 421.72L157.90 419.61L158.15 417.41L158.40 415.10L158.65 412.64L158.90 410.04L159.15 407.40L159.40 404.81L159.65 402.22L159.90 399.61L160.15 397.10L160.40 394.79L160.65 392.69L160.91 390.74L161.16 388.99L161.40 387.48L161.62 386.23L161.82 385.23L162.01 384.40L162.20 383.68L162.36 383.04L162.51 382.50L162.67 382.15L162.90 382.06L163.21 382.45L163.59 383.21L163.99 383.94L164.40 384.23L164.83 383.69L165.28 382.64L165.72 381.70L166.10 381.52L166.40 382.30L166.64 383.70L166.86 385.50L167.10 387.48L167.37 389.68L167.64 392.18L167.92 394.84L168.20 397.50L168.50 400.21L168.80 403.03L169.10 405.80L169.40 408.33L169.68 410.54L169.95 412.51L170.22 414.43L170.50 416.46L170.79 418.71L171.09 421.06L171.40 423.35L171.70 425.40L171.99 427.14L172.28 428.68L172.58 430.07L172.90 431.36L173.25 432.54L173.63 433.61L174.02 434.56L174.40 435.42L174.77 436.15L175.14 436.76L175.52 437.31L175.90 437.86L176.29 438.42L176.68 438.97L177.08 439.51L177.50 440.02L177.94 440.53L178.39 441.02L178.88 441.49L179.40 441.92L179.97 442.31L180.58 442.67L181.23 442.99L181.90 443.27L182.59 443.52L183.31 443.71L184.07 443.90L184.90 444.09L185.92 444.31L187.09 444.54L188.16 444.75L188.90 444.90L188.90 444.90Z" fill="#dc9632" fill-opacity="0.77" stroke="#dba234" stroke-opacity="0.95" stroke-width="0.9"/>
</g>
<rect x="144.30" y="371.70" width="76.70" height="73.80" fill="none" stroke="#111" stroke-width="1.6"/>
<path d="M141.30 444.90H144.30" stroke="#111" stroke-width="1.0"/>
<text x="139.10" y="447.10" font-size="6.3" text-anchor="end" fill="#222" stroke="#222" stroke-width="0.25">0</text>
<path d="M142.40 442.16H144.30" stroke="#111" stroke-width="0.8"/>
<path d="M142.40 439.43H144.30" stroke="#111" stroke-width="0.8"/>
<path d="M142.40 436.69H144.30" stroke="#111" stroke-width="0.8"/>
<path d="M142.40 433.96H144.30" stroke="#111" stroke-width="0.8"/>
<path d="M141.30 431.22H144.30" stroke="#111" stroke-width="1.0"/>
<text x="139.10" y="433.42" font-size="6.3" text-anchor="end" fill="#222" stroke="#222" stroke-width="0.25">50</text>
<path d="M142.40 428.48H144.30" stroke="#111" stroke-width="0.8"/>
<path d="M142.40 425.75H144.30" stroke="#111" stroke-width="0.8"/>
<path d="M142.40 423.01H144.30" stroke="#111" stroke-width="0.8"/>
<path d="M142.40 420.28H144.30" stroke="#111" stroke-width="0.8"/>
<path d="M141.30 417.54H144.30" stroke="#111" stroke-width="1.0"/>
<text x="139.10" y="419.74" font-size="6.3" text-anchor="end" fill="#222" stroke="#222" stroke-width="0.25">100</text>
<path d="M142.40 414.80H144.30" stroke="#111" stroke-width="0.8"/>
<path d="M142.40 412.07H144.30" stroke="#111" stroke-width="0.8"/>
<path d="M142.40 409.33H144.30" stroke="#111" stroke-width="0.8"/>
<path d="M142.40 406.60H144.30" stroke="#111" stroke-width="0.8"/>
<path d="M141.30 403.86H144.30" stroke="#111" stroke-width="1.0"/>
<text x="139.10" y="406.06" font-size="6.3" text-anchor="end" fill="#222" stroke="#222" stroke-width="0.25">150</text>
<path d="M142.40 401.12H144.30" stroke="#111" stroke-width="0.8"/>
<path d="M142.40 398.39H144.30" stroke="#111" stroke-width="0.8"/>
<path d="M142.40 395.65H144.30" stroke="#111" stroke-width="0.8"/>
<path d="M142.40 392.92H144.30" stroke="#111" stroke-width="0.8"/>
<path d="M141.30 390.18H144.30" stroke="#111" stroke-width="1.0"/>
<text x="139.10" y="392.38" font-size="6.3" text-anchor="end" fill="#222" stroke="#222" stroke-width="0.25">200</text>
<path d="M142.40 387.44H144.30" stroke="#111" stroke-width="0.8"/>
<path d="M142.40 384.71H144.30" stroke="#111" stroke-width="0.8"/>
<path d="M142.40 381.97H144.30" stroke="#111" stroke-width="0.8"/>
<path d="M142.40 379.24H144.30" stroke="#111" stroke-width="0.8"/>
<path d="M141.30 376.50H144.30" stroke="#111" stroke-width="1.0"/>
<text x="139.10" y="378.70" font-size="6.3" text-anchor="end" fill="#222" stroke="#222" stroke-width="0.25">250</text>
<path d="M148.30 445.50V448.70" stroke="#111" stroke-width="1.0"/>
<path d="M158.30 445.50V448.70" stroke="#111" stroke-width="1.0"/>
<path d="M168.30 445.50V448.70" stroke="#111" stroke-width="1.0"/>
<path d="M180.60 445.50V448.70" stroke="#111" stroke-width="1.0"/>
<path d="M197.60 445.50V448.70" stroke="#111" stroke-width="1.0"/>
<path d="M213.80 445.50V448.70" stroke="#111" stroke-width="1.0"/>
<path d="M185.72 445.50V447.70" stroke="#111" stroke-width="0.7"/>
<path d="M188.71 445.50V447.70" stroke="#111" stroke-width="0.7"/>
<path d="M190.84 445.50V447.70" stroke="#111" stroke-width="0.7"/>
<path d="M192.48 445.50V447.70" stroke="#111" stroke-width="0.7"/>
<path d="M193.83 445.50V447.70" stroke="#111" stroke-width="0.7"/>
<path d="M194.97 445.50V447.70" stroke="#111" stroke-width="0.7"/>
<path d="M195.95 445.50V447.70" stroke="#111" stroke-width="0.7"/>
<path d="M196.82 445.50V447.70" stroke="#111" stroke-width="0.7"/>
<path d="M202.48 445.50V447.70" stroke="#111" stroke-width="0.7"/>
<path d="M205.33 445.50V447.70" stroke="#111" stroke-width="0.7"/>
<path d="M207.35 445.50V447.70" stroke="#111" stroke-width="0.7"/>
<path d="M208.92 445.50V447.70" stroke="#111" stroke-width="0.7"/>
<path d="M210.21 445.50V447.70" stroke="#111" stroke-width="0.7"/>
<path d="M211.29 445.50V447.70" stroke="#111" stroke-width="0.7"/>
<path d="M212.23 445.50V447.70" stroke="#111" stroke-width="0.7"/>
<path d="M213.06 445.50V447.70" stroke="#111" stroke-width="0.7"/>
<path d="M170.30 445.50V447.70" stroke="#111" stroke-width="0.7"/>
<path d="M172.30 445.50V447.70" stroke="#111" stroke-width="0.7"/>
<path d="M174.30 445.50V447.70" stroke="#111" stroke-width="0.7"/>
<path d="M176.30 445.50V447.70" stroke="#111" stroke-width="0.7"/>
<path d="M178.30 445.50V447.70" stroke="#111" stroke-width="0.7"/>
<path d="M150.30 445.50V447.70" stroke="#111" stroke-width="0.7"/>
<path d="M152.30 445.50V447.70" stroke="#111" stroke-width="0.7"/>
<path d="M154.30 445.50V447.70" stroke="#111" stroke-width="0.7"/>
<path d="M156.30 445.50V447.70" stroke="#111" stroke-width="0.7"/>
<path d="M160.30 445.50V447.70" stroke="#111" stroke-width="0.7"/>
<path d="M162.30 445.50V447.70" stroke="#111" stroke-width="0.7"/>
<path d="M164.30 445.50V447.70" stroke="#111" stroke-width="0.7"/>
<path d="M166.30 445.50V447.70" stroke="#111" stroke-width="0.7"/>
<text x="158.30" y="455.50" font-size="6.0" text-anchor="middle" fill="#222" stroke="#222" stroke-width="0.2">0</text>
<text x="180.60" y="455.50" font-size="6.0" text-anchor="middle" fill="#222" stroke="#222" stroke-width="0.2">10<tspan font-size="4" dy="-2.6">3</tspan></text>
<text x="197.60" y="455.50" font-size="6.0" text-anchor="middle" fill="#222" stroke="#222" stroke-width="0.2">10<tspan font-size="4" dy="-2.6">4</tspan></text>
<text x="213.80" y="455.50" font-size="6.0" text-anchor="middle" fill="#222" stroke="#222" stroke-width="0.2">10<tspan font-size="4" dy="-2.6">5</tspan></text>
<text x="182.85" y="466.70" font-size="9" text-anchor="middle" font-weight="bold" textLength="15.4" lengthAdjust="spacingAndGlyphs" fill="#1a1a1a">PD-L1</text>
<text x="182.65" y="366.90" font-size="8.6" text-anchor="middle" fill="#111" stroke="#111" stroke-width="0.15">+IL-6</text>
<clipPath id="c241_371"><rect x="241.3" y="371.7" width="76.7" height="73.8"/></clipPath>
<g clip-path="url(#c241_371)">
<path d="M248.30 444.90L248.30 444.90L248.48 444.73L248.74 444.50L249.03 444.20L249.30 443.83L249.55 443.42L249.80 442.96L250.05 442.39L250.30 441.68L250.55 440.80L250.80 439.77L251.05 438.63L251.30 437.39L251.55 436.07L251.80 434.64L252.05 433.12L252.30 431.49L252.55 429.75L252.80 427.91L253.05 425.98L253.30 423.99L253.55 421.95L253.80 419.86L254.05 417.69L254.30 415.41L254.55 412.97L254.80 410.40L255.05 407.78L255.30 405.22L255.55 402.66L255.80 400.07L256.05 397.58L256.30 395.30L256.55 393.22L256.81 391.29L257.06 389.56L257.30 388.06L257.52 386.82L257.72 385.83L257.91 385.01L258.10 384.30L258.26 383.66L258.41 383.13L258.57 382.78L258.80 382.69L259.11 383.08L259.49 383.83L259.89 384.55L260.30 384.84L260.73 384.31L261.18 383.26L261.62 382.34L262.00 382.16L262.30 382.94L262.54 384.32L262.76 386.10L263.00 388.06L263.27 390.24L263.54 392.72L263.82 395.35L264.10 397.98L264.40 400.67L264.70 403.46L265.00 406.19L265.30 408.70L265.58 410.88L265.85 412.84L266.12 414.74L266.40 416.75L266.69 418.97L266.99 421.30L267.30 423.57L267.60 425.59L267.89 427.32L268.18 428.85L268.48 430.22L268.80 431.49L269.15 432.67L269.53 433.72L269.92 434.67L270.30 435.52L270.67 436.24L271.04 436.84L271.42 437.38L271.80 437.93L272.19 438.49L272.57 439.03L272.98 439.56L273.40 440.07L273.84 440.57L274.29 441.06L274.78 441.53L275.30 441.95L275.87 442.34L276.48 442.69L277.13 443.01L277.80 443.29L278.49 443.53L279.21 443.73L279.97 443.91L280.80 444.10L281.82 444.32L282.99 444.55L284.06 444.76L284.80 444.90L284.80 444.90Z" fill="#b90a3c" fill-opacity="0.55" stroke="#7a0020" stroke-opacity="1.0" stroke-width="1.1"/>
<path d="M249.00 444.90L249.00 444.90L249.18 444.73L249.44 444.49L249.73 444.18L250.00 443.81L250.25 443.39L250.50 442.92L250.75 442.34L251.00 441.62L251.25 440.71L251.50 439.67L251.75 438.50L252.00 437.24L252.25 435.89L252.50 434.43L252.75 432.88L253.00 431.22L253.25 429.45L253.50 427.56L253.75 425.59L254.00 423.56L254.25 421.49L254.50 419.35L254.75 417.13L255.00 414.80L255.25 412.31L255.50 409.69L255.75 407.03L256.00 404.41L256.25 401.79L256.50 399.16L256.75 396.62L257.00 394.28L257.25 392.16L257.51 390.20L257.76 388.43L258.00 386.90L258.22 385.64L258.42 384.62L258.61 383.79L258.80 383.07L258.96 382.41L259.11 381.87L259.27 381.51L259.50 381.42L259.81 381.82L260.19 382.59L260.59 383.32L261.00 383.61L261.43 383.07L261.88 382.01L262.32 381.06L262.70 380.88L263.00 381.67L263.24 383.08L263.46 384.90L263.70 386.90L263.97 389.12L264.24 391.65L264.52 394.34L264.80 397.02L265.10 399.76L265.40 402.61L265.70 405.40L266.00 407.96L266.28 410.19L266.55 412.19L266.82 414.13L267.10 416.17L267.39 418.44L267.69 420.82L268.00 423.14L268.30 425.20L268.59 426.96L268.88 428.52L269.18 429.92L269.50 431.22L269.85 432.42L270.23 433.49L270.62 434.46L271.00 435.32L271.37 436.06L271.74 436.67L272.12 437.23L272.50 437.79L272.89 438.36L273.28 438.91L273.68 439.45L274.10 439.98L274.54 440.49L274.99 440.98L275.48 441.46L276.00 441.89L276.57 442.28L277.18 442.64L277.83 442.97L278.50 443.26L279.19 443.50L279.91 443.70L280.67 443.89L281.50 444.08L282.52 444.30L283.69 444.54L284.76 444.75L285.50 444.90L285.50 444.90Z" fill="#284696" fill-opacity="0.45" stroke="#1a2a60" stroke-opacity="0.9" stroke-width="0.9"/>
<path d="M249.20 444.90L249.20 444.90L249.38 444.73L249.64 444.50L249.93 444.20L250.20 443.83L250.45 443.42L250.70 442.96L250.95 442.39L251.20 441.68L251.45 440.80L251.70 439.77L251.95 438.63L252.20 437.39L252.45 436.07L252.70 434.64L252.95 433.12L253.20 431.49L253.45 429.75L253.70 427.91L253.95 425.98L254.20 423.99L254.45 421.95L254.70 419.86L254.95 417.69L255.20 415.41L255.45 412.97L255.70 410.40L255.95 407.78L256.20 405.22L256.45 402.66L256.70 400.07L256.95 397.58L257.20 395.30L257.45 393.22L257.71 391.29L257.96 389.56L258.20 388.06L258.42 386.82L258.62 385.83L258.81 385.01L259.00 384.30L259.16 383.66L259.31 383.13L259.47 382.78L259.70 382.69L260.01 383.08L260.39 383.83L260.79 384.55L261.20 384.84L261.63 384.31L262.08 383.26L262.52 382.34L262.90 382.16L263.20 382.94L263.44 384.32L263.66 386.10L263.90 388.06L264.17 390.24L264.44 392.72L264.72 395.35L265.00 397.98L265.30 400.67L265.60 403.46L265.90 406.19L266.20 408.70L266.48 410.88L266.75 412.84L267.02 414.74L267.30 416.75L267.59 418.97L267.89 421.30L268.20 423.57L268.50 425.59L268.79 427.32L269.08 428.85L269.38 430.22L269.70 431.49L270.05 432.67L270.43 433.72L270.82 434.67L271.20 435.52L271.57 436.24L271.94 436.84L272.32 437.38L272.70 437.93L273.09 438.49L273.48 439.03L273.88 439.56L274.30 440.07L274.74 440.57L275.19 441.06L275.68 441.53L276.20 441.95L276.77 442.34L277.38 442.69L278.03 443.01L278.70 443.29L279.39 443.53L280.11 443.73L280.87 443.91L281.70 444.10L282.72 444.32L283.89 444.55L284.96 444.76L285.70 444.90L285.70 444.90Z" fill="#dc9632" fill-opacity="0.77" stroke="#dba234" stroke-opacity="0.95" stroke-width="0.9"/>
</g>
<rect x="241.30" y="371.70" width="76.70" height="73.80" fill="none" stroke="#111" stroke-width="1.6"/>
<path d="M238.30 444.90H241.30" stroke="#111" stroke-width="1.0"/>
<text x="236.10" y="447.10" font-size="6.3" text-anchor="end" fill="#222" stroke="#222" stroke-width="0.25">0</text>
<path d="M239.40 442.16H241.30" stroke="#111" stroke-width="0.8"/>
<path d="M239.40 439.43H241.30" stroke="#111" stroke-width="0.8"/>
<path d="M239.40 436.69H241.30" stroke="#111" stroke-width="0.8"/>
<path d="M239.40 433.96H241.30" stroke="#111" stroke-width="0.8"/>
<path d="M238.30 431.22H241.30" stroke="#111" stroke-width="1.0"/>
<text x="236.10" y="433.42" font-size="6.3" text-anchor="end" fill="#222" stroke="#222" stroke-width="0.25">50</text>
<path d="M239.40 428.48H241.30" stroke="#111" stroke-width="0.8"/>
<path d="M239.40 425.75H241.30" stroke="#111" stroke-width="0.8"/>
<path d="M239.40 423.01H241.30" stroke="#111" stroke-width="0.8"/>
<path d="M239.40 420.28H241.30" stroke="#111" stroke-width="0.8"/>
<path d="M238.30 417.54H241.30" stroke="#111" stroke-width="1.0"/>
<text x="236.10" y="419.74" font-size="6.3" text-anchor="end" fill="#222" stroke="#222" stroke-width="0.25">100</text>
<path d="M239.40 414.80H241.30" stroke="#111" stroke-width="0.8"/>
<path d="M239.40 412.07H241.30" stroke="#111" stroke-width="0.8"/>
<path d="M239.40 409.33H241.30" stroke="#111" stroke-width="0.8"/>
<path d="M239.40 406.60H241.30" stroke="#111" stroke-width="0.8"/>
<path d="M238.30 403.86H241.30" stroke="#111" stroke-width="1.0"/>
<text x="236.10" y="406.06" font-size="6.3" text-anchor="end" fill="#222" stroke="#222" stroke-width="0.25">150</text>
<path d="M239.40 401.12H241.30" stroke="#111" stroke-width="0.8"/>
<path d="M239.40 398.39H241.30" stroke="#111" stroke-width="0.8"/>
<path d="M239.40 395.65H241.30" stroke="#111" stroke-width="0.8"/>
<path d="M239.40 392.92H241.30" stroke="#111" stroke-width="0.8"/>
<path d="M238.30 390.18H241.30" stroke="#111" stroke-width="1.0"/>
<text x="236.10" y="392.38" font-size="6.3" text-anchor="end" fill="#222" stroke="#222" stroke-width="0.25">200</text>
<path d="M239.40 387.44H241.30" stroke="#111" stroke-width="0.8"/>
<path d="M239.40 384.71H241.30" stroke="#111" stroke-width="0.8"/>
<path d="M239.40 381.97H241.30" stroke="#111" stroke-width="0.8"/>
<path d="M239.40 379.24H241.30" stroke="#111" stroke-width="0.8"/>
<path d="M238.30 376.50H241.30" stroke="#111" stroke-width="1.0"/>
<text x="236.10" y="378.70" font-size="6.3" text-anchor="end" fill="#222" stroke="#222" stroke-width="0.25">250</text>
<path d="M245.30 445.50V448.70" stroke="#111" stroke-width="1.0"/>
<path d="M255.30 445.50V448.70" stroke="#111" stroke-width="1.0"/>
<path d="M265.30 445.50V448.70" stroke="#111" stroke-width="1.0"/>
<path d="M277.60 445.50V448.70" stroke="#111" stroke-width="1.0"/>
<path d="M294.60 445.50V448.70" stroke="#111" stroke-width="1.0"/>
<path d="M310.80 445.50V448.70" stroke="#111" stroke-width="1.0"/>
<path d="M282.72 445.50V447.70" stroke="#111" stroke-width="0.7"/>
<path d="M285.71 445.50V447.70" stroke="#111" stroke-width="0.7"/>
<path d="M287.84 445.50V447.70" stroke="#111" stroke-width="0.7"/>
<path d="M289.48 445.50V447.70" stroke="#111" stroke-width="0.7"/>
<path d="M290.83 445.50V447.70" stroke="#111" stroke-width="0.7"/>
<path d="M291.97 445.50V447.70" stroke="#111" stroke-width="0.7"/>
<path d="M292.95 445.50V447.70" stroke="#111" stroke-width="0.7"/>
<path d="M293.82 445.50V447.70" stroke="#111" stroke-width="0.7"/>
<path d="M299.48 445.50V447.70" stroke="#111" stroke-width="0.7"/>
<path d="M302.33 445.50V447.70" stroke="#111" stroke-width="0.7"/>
<path d="M304.35 445.50V447.70" stroke="#111" stroke-width="0.7"/>
<path d="M305.92 445.50V447.70" stroke="#111" stroke-width="0.7"/>
<path d="M307.21 445.50V447.70" stroke="#111" stroke-width="0.7"/>
<path d="M308.29 445.50V447.70" stroke="#111" stroke-width="0.7"/>
<path d="M309.23 445.50V447.70" stroke="#111" stroke-width="0.7"/>
<path d="M310.06 445.50V447.70" stroke="#111" stroke-width="0.7"/>
<path d="M267.30 445.50V447.70" stroke="#111" stroke-width="0.7"/>
<path d="M269.30 445.50V447.70" stroke="#111" stroke-width="0.7"/>
<path d="M271.30 445.50V447.70" stroke="#111" stroke-width="0.7"/>
<path d="M273.30 445.50V447.70" stroke="#111" stroke-width="0.7"/>
<path d="M275.30 445.50V447.70" stroke="#111" stroke-width="0.7"/>
<path d="M247.30 445.50V447.70" stroke="#111" stroke-width="0.7"/>
<path d="M249.30 445.50V447.70" stroke="#111" stroke-width="0.7"/>
<path d="M251.30 445.50V447.70" stroke="#111" stroke-width="0.7"/>
<path d="M253.30 445.50V447.70" stroke="#111" stroke-width="0.7"/>
<path d="M257.30 445.50V447.70" stroke="#111" stroke-width="0.7"/>
<path d="M259.30 445.50V447.70" stroke="#111" stroke-width="0.7"/>
<path d="M261.30 445.50V447.70" stroke="#111" stroke-width="0.7"/>
<path d="M263.30 445.50V447.70" stroke="#111" stroke-width="0.7"/>
<text x="255.30" y="455.50" font-size="6.0" text-anchor="middle" fill="#222" stroke="#222" stroke-width="0.2">0</text>
<text x="277.60" y="455.50" font-size="6.0" text-anchor="middle" fill="#222" stroke="#222" stroke-width="0.2">10<tspan font-size="4" dy="-2.6">3</tspan></text>
<text x="294.60" y="455.50" font-size="6.0" text-anchor="middle" fill="#222" stroke="#222" stroke-width="0.2">10<tspan font-size="4" dy="-2.6">4</tspan></text>
<text x="310.80" y="455.50" font-size="6.0" text-anchor="middle" fill="#222" stroke="#222" stroke-width="0.2">10<tspan font-size="4" dy="-2.6">5</tspan></text>
<text x="279.85" y="466.70" font-size="9" text-anchor="middle" font-weight="bold" textLength="15.4" lengthAdjust="spacingAndGlyphs" fill="#1a1a1a">PD-L1</text>
<text x="279.65" y="366.90" font-size="8.6" text-anchor="middle" fill="#111" stroke="#111" stroke-width="0.15">+INF&#947;</text>
<clipPath id="c338_371"><rect x="338.3" y="371.7" width="76.7" height="73.8"/></clipPath>
<g clip-path="url(#c338_371)">
<path d="M345.30 444.90L345.30 444.90L345.48 444.73L345.74 444.50L346.03 444.20L346.30 443.84L346.55 443.43L346.80 442.98L347.05 442.42L347.30 441.72L347.55 440.84L347.80 439.82L348.05 438.69L348.30 437.47L348.55 436.16L348.80 434.75L349.05 433.24L349.30 431.63L349.55 429.91L349.80 428.08L350.05 426.17L350.30 424.20L350.55 422.19L350.80 420.12L351.05 417.97L351.30 415.71L351.55 413.29L351.80 410.75L352.05 408.16L352.30 405.62L352.55 403.09L352.80 400.53L353.05 398.06L353.30 395.80L353.55 393.74L353.81 391.84L354.06 390.12L354.30 388.64L354.52 387.42L354.72 386.43L354.91 385.62L355.10 384.92L355.26 384.29L355.41 383.76L355.57 383.42L355.80 383.33L356.11 383.71L356.49 384.46L356.89 385.17L357.30 385.45L357.73 384.93L358.18 383.89L358.62 382.98L359.00 382.80L359.30 383.57L359.54 384.94L359.76 386.70L360.00 388.64L360.27 390.79L360.54 393.25L360.82 395.85L361.10 398.46L361.40 401.12L361.70 403.88L362.00 406.59L362.30 409.07L362.58 411.23L362.85 413.17L363.12 415.05L363.40 417.03L363.69 419.24L363.99 421.55L364.30 423.79L364.60 425.79L364.89 427.50L365.18 429.01L365.48 430.37L365.80 431.63L366.15 432.79L366.53 433.84L366.92 434.77L367.30 435.61L367.67 436.33L368.04 436.92L368.42 437.46L368.80 438.00L369.19 438.56L369.57 439.09L369.98 439.62L370.40 440.12L370.84 440.62L371.29 441.10L371.78 441.56L372.30 441.98L372.87 442.36L373.48 442.71L374.13 443.03L374.80 443.31L375.49 443.54L376.21 443.74L376.97 443.92L377.80 444.10L378.82 444.32L379.99 444.55L381.06 444.76L381.80 444.90L381.80 444.90Z" fill="#b90a3c" fill-opacity="0.55" stroke="#7a0020" stroke-opacity="1.0" stroke-width="1.1"/>
<path d="M345.80 444.90L345.80 444.90L345.98 444.74L346.24 444.51L346.53 444.21L346.80 443.85L347.05 443.45L347.30 443.00L347.55 442.45L347.80 441.75L348.05 440.88L348.30 439.88L348.55 438.76L348.80 437.55L349.05 436.25L349.30 434.85L349.55 433.36L349.80 431.77L350.05 430.06L350.30 428.25L350.55 426.36L350.80 424.41L351.05 422.42L351.30 420.37L351.55 418.24L351.80 416.01L352.05 413.62L352.30 411.10L352.55 408.54L352.80 406.03L353.05 403.52L353.30 400.99L353.55 398.55L353.80 396.31L354.05 394.27L354.31 392.39L354.56 390.69L354.80 389.22L355.02 388.01L355.22 387.03L355.41 386.23L355.60 385.54L355.76 384.91L355.91 384.39L356.07 384.05L356.30 383.96L356.61 384.34L356.99 385.08L357.39 385.79L357.80 386.07L358.23 385.54L358.68 384.52L359.12 383.61L359.50 383.44L359.80 384.20L360.04 385.56L360.26 387.30L360.50 389.22L360.77 391.35L361.04 393.78L361.32 396.36L361.60 398.94L361.90 401.57L362.20 404.30L362.50 406.98L362.80 409.44L363.08 411.58L363.35 413.50L363.62 415.36L363.90 417.32L364.19 419.50L364.49 421.79L364.80 424.01L365.10 425.99L365.39 427.68L365.68 429.17L365.98 430.52L366.30 431.77L366.65 432.92L367.03 433.95L367.42 434.88L367.80 435.71L368.17 436.41L368.54 437.00L368.92 437.54L369.30 438.07L369.69 438.62L370.07 439.15L370.48 439.67L370.90 440.17L371.34 440.66L371.79 441.14L372.28 441.59L372.80 442.01L373.37 442.39L373.98 442.73L374.63 443.04L375.30 443.32L375.99 443.56L376.71 443.75L377.47 443.93L378.30 444.11L379.32 444.33L380.49 444.56L381.56 444.76L382.30 444.90L382.30 444.90Z" fill="#284696" fill-opacity="0.45" stroke="#1a2a60" stroke-opacity="0.9" stroke-width="0.9"/>
<path d="M345.80 444.90L345.80 444.90L345.98 444.73L346.24 444.49L346.53 444.18L346.80 443.81L347.05 443.39L347.30 442.92L347.55 442.34L347.80 441.62L348.05 440.71L348.30 439.67L348.55 438.50L348.80 437.24L349.05 435.89L349.30 434.43L349.55 432.88L349.80 431.22L350.05 429.45L350.30 427.56L350.55 425.59L350.80 423.56L351.05 421.49L351.30 419.35L351.55 417.13L351.80 414.80L352.05 412.28L352.30 409.61L352.55 406.93L352.80 404.41L353.05 402.06L353.30 399.81L353.55 397.67L353.80 395.65L354.05 393.74L354.30 391.94L354.55 390.28L354.80 388.81L355.05 387.55L355.31 386.47L355.56 385.54L355.80 384.71L356.00 384.12L356.19 383.73L356.38 383.29L356.60 382.52L356.88 381.05L357.19 379.13L357.50 377.40L357.80 376.50L358.06 376.68L358.31 377.56L358.55 378.87L358.80 380.33L359.05 381.98L359.30 383.92L359.55 385.99L359.80 387.99L360.05 389.89L360.30 391.79L360.55 393.70L360.80 395.65L361.04 397.63L361.28 399.64L361.53 401.70L361.80 403.86L362.11 406.19L362.44 408.65L362.78 411.11L363.10 413.44L363.41 415.62L363.71 417.71L364.00 419.72L364.30 421.64L364.60 423.50L364.89 425.27L365.19 426.94L365.50 428.48L365.81 429.89L366.13 431.17L366.46 432.34L366.80 433.41L367.15 434.36L367.51 435.19L367.89 435.95L368.30 436.69L368.75 437.42L369.24 438.11L369.75 438.78L370.30 439.43L370.89 440.09L371.52 440.74L372.16 441.36L372.80 441.89L373.41 442.32L374.02 442.68L374.64 442.98L375.30 443.26L375.99 443.50L376.71 443.70L377.47 443.89L378.30 444.08L379.32 444.30L380.49 444.54L381.56 444.75L382.30 444.90L382.30 444.90Z" fill="#dc9632" fill-opacity="0.77" stroke="#dba234" stroke-opacity="0.95" stroke-width="0.9"/>
</g>
<rect x="338.30" y="371.70" width="76.70" height="73.80" fill="none" stroke="#111" stroke-width="1.6"/>
<path d="M335.30 444.90H338.30" stroke="#111" stroke-width="1.0"/>
<text x="333.10" y="447.10" font-size="6.3" text-anchor="end" fill="#222" stroke="#222" stroke-width="0.25">0</text>
<path d="M336.40 442.16H338.30" stroke="#111" stroke-width="0.8"/>
<path d="M336.40 439.43H338.30" stroke="#111" stroke-width="0.8"/>
<path d="M336.40 436.69H338.30" stroke="#111" stroke-width="0.8"/>
<path d="M336.40 433.96H338.30" stroke="#111" stroke-width="0.8"/>
<path d="M335.30 431.22H338.30" stroke="#111" stroke-width="1.0"/>
<text x="333.10" y="433.42" font-size="6.3" text-anchor="end" fill="#222" stroke="#222" stroke-width="0.25">50</text>
<path d="M336.40 428.48H338.30" stroke="#111" stroke-width="0.8"/>
<path d="M336.40 425.75H338.30" stroke="#111" stroke-width="0.8"/>
<path d="M336.40 423.01H338.30" stroke="#111" stroke-width="0.8"/>
<path d="M336.40 420.28H338.30" stroke="#111" stroke-width="0.8"/>
<path d="M335.30 417.54H338.30" stroke="#111" stroke-width="1.0"/>
<text x="333.10" y="419.74" font-size="6.3" text-anchor="end" fill="#222" stroke="#222" stroke-width="0.25">100</text>
<path d="M336.40 414.80H338.30" stroke="#111" stroke-width="0.8"/>
<path d="M336.40 412.07H338.30" stroke="#111" stroke-width="0.8"/>
<path d="M336.40 409.33H338.30" stroke="#111" stroke-width="0.8"/>
<path d="M336.40 406.60H338.30" stroke="#111" stroke-width="0.8"/>
<path d="M335.30 403.86H338.30" stroke="#111" stroke-width="1.0"/>
<text x="333.10" y="406.06" font-size="6.3" text-anchor="end" fill="#222" stroke="#222" stroke-width="0.25">150</text>
<path d="M336.40 401.12H338.30" stroke="#111" stroke-width="0.8"/>
<path d="M336.40 398.39H338.30" stroke="#111" stroke-width="0.8"/>
<path d="M336.40 395.65H338.30" stroke="#111" stroke-width="0.8"/>
<path d="M336.40 392.92H338.30" stroke="#111" stroke-width="0.8"/>
<path d="M335.30 390.18H338.30" stroke="#111" stroke-width="1.0"/>
<text x="333.10" y="392.38" font-size="6.3" text-anchor="end" fill="#222" stroke="#222" stroke-width="0.25">200</text>
<path d="M336.40 387.44H338.30" stroke="#111" stroke-width="0.8"/>
<path d="M336.40 384.71H338.30" stroke="#111" stroke-width="0.8"/>
<path d="M336.40 381.97H338.30" stroke="#111" stroke-width="0.8"/>
<path d="M336.40 379.24H338.30" stroke="#111" stroke-width="0.8"/>
<path d="M335.30 376.50H338.30" stroke="#111" stroke-width="1.0"/>
<text x="333.10" y="378.70" font-size="6.3" text-anchor="end" fill="#222" stroke="#222" stroke-width="0.25">250</text>
<path d="M342.30 445.50V448.70" stroke="#111" stroke-width="1.0"/>
<path d="M352.30 445.50V448.70" stroke="#111" stroke-width="1.0"/>
<path d="M362.30 445.50V448.70" stroke="#111" stroke-width="1.0"/>
<path d="M374.60 445.50V448.70" stroke="#111" stroke-width="1.0"/>
<path d="M391.60 445.50V448.70" stroke="#111" stroke-width="1.0"/>
<path d="M407.80 445.50V448.70" stroke="#111" stroke-width="1.0"/>
<path d="M379.72 445.50V447.70" stroke="#111" stroke-width="0.7"/>
<path d="M382.71 445.50V447.70" stroke="#111" stroke-width="0.7"/>
<path d="M384.84 445.50V447.70" stroke="#111" stroke-width="0.7"/>
<path d="M386.48 445.50V447.70" stroke="#111" stroke-width="0.7"/>
<path d="M387.83 445.50V447.70" stroke="#111" stroke-width="0.7"/>
<path d="M388.97 445.50V447.70" stroke="#111" stroke-width="0.7"/>
<path d="M389.95 445.50V447.70" stroke="#111" stroke-width="0.7"/>
<path d="M390.82 445.50V447.70" stroke="#111" stroke-width="0.7"/>
<path d="M396.48 445.50V447.70" stroke="#111" stroke-width="0.7"/>
<path d="M399.33 445.50V447.70" stroke="#111" stroke-width="0.7"/>
<path d="M401.35 445.50V447.70" stroke="#111" stroke-width="0.7"/>
<path d="M402.92 445.50V447.70" stroke="#111" stroke-width="0.7"/>
<path d="M404.21 445.50V447.70" stroke="#111" stroke-width="0.7"/>
<path d="M405.29 445.50V447.70" stroke="#111" stroke-width="0.7"/>
<path d="M406.23 445.50V447.70" stroke="#111" stroke-width="0.7"/>
<path d="M407.06 445.50V447.70" stroke="#111" stroke-width="0.7"/>
<path d="M364.30 445.50V447.70" stroke="#111" stroke-width="0.7"/>
<path d="M366.30 445.50V447.70" stroke="#111" stroke-width="0.7"/>
<path d="M368.30 445.50V447.70" stroke="#111" stroke-width="0.7"/>
<path d="M370.30 445.50V447.70" stroke="#111" stroke-width="0.7"/>
<path d="M372.30 445.50V447.70" stroke="#111" stroke-width="0.7"/>
<path d="M344.30 445.50V447.70" stroke="#111" stroke-width="0.7"/>
<path d="M346.30 445.50V447.70" stroke="#111" stroke-width="0.7"/>
<path d="M348.30 445.50V447.70" stroke="#111" stroke-width="0.7"/>
<path d="M350.30 445.50V447.70" stroke="#111" stroke-width="0.7"/>
<path d="M354.30 445.50V447.70" stroke="#111" stroke-width="0.7"/>
<path d="M356.30 445.50V447.70" stroke="#111" stroke-width="0.7"/>
<path d="M358.30 445.50V447.70" stroke="#111" stroke-width="0.7"/>
<path d="M360.30 445.50V447.70" stroke="#111" stroke-width="0.7"/>
<text x="352.30" y="455.50" font-size="6.0" text-anchor="middle" fill="#222" stroke="#222" stroke-width="0.2">0</text>
<text x="374.60" y="455.50" font-size="6.0" text-anchor="middle" fill="#222" stroke="#222" stroke-width="0.2">10<tspan font-size="4" dy="-2.6">3</tspan></text>
<text x="391.60" y="455.50" font-size="6.0" text-anchor="middle" fill="#222" stroke="#222" stroke-width="0.2">10<tspan font-size="4" dy="-2.6">4</tspan></text>
<text x="407.80" y="455.50" font-size="6.0" text-anchor="middle" fill="#222" stroke="#222" stroke-width="0.2">10<tspan font-size="4" dy="-2.6">5</tspan></text>
<text x="376.85" y="466.70" font-size="9" text-anchor="middle" font-weight="bold" textLength="15.4" lengthAdjust="spacingAndGlyphs" fill="#1a1a1a">PD-L1</text>
<text x="376.65" y="366.90" font-size="8.6" text-anchor="middle" fill="#111" stroke="#111" stroke-width="0.15">+CCL5</text>
<clipPath id="c434_371"><rect x="434.6" y="371.7" width="76.7" height="73.8"/></clipPath>
<g clip-path="url(#c434_371)">
<path d="M442.00 444.90L442.00 444.90L442.18 444.73L442.44 444.50L442.73 444.20L443.00 443.83L443.25 443.42L443.50 442.96L443.75 442.39L444.00 441.68L444.25 440.80L444.50 439.77L444.75 438.63L445.00 437.39L445.25 436.07L445.50 434.64L445.75 433.12L446.00 431.49L446.25 429.75L446.50 427.91L446.75 425.98L447.00 423.99L447.25 421.95L447.50 419.86L447.75 417.69L448.00 415.41L448.25 412.97L448.50 410.40L448.75 407.78L449.00 405.22L449.25 402.66L449.50 400.07L449.75 397.58L450.00 395.30L450.25 393.22L450.51 391.29L450.76 389.56L451.00 388.06L451.22 386.82L451.42 385.83L451.61 385.01L451.80 384.30L451.96 383.66L452.11 383.13L452.27 382.78L452.50 382.69L452.81 383.08L453.19 383.83L453.59 384.55L454.00 384.84L454.43 384.31L454.88 383.26L455.32 382.34L455.70 382.16L456.00 382.94L456.24 384.32L456.46 386.10L456.70 388.06L456.97 390.24L457.24 392.72L457.52 395.35L457.80 397.98L458.10 400.67L458.40 403.46L458.70 406.19L459.00 408.70L459.28 410.88L459.55 412.84L459.82 414.74L460.10 416.75L460.39 418.97L460.69 421.30L461.00 423.57L461.30 425.59L461.59 427.32L461.88 428.85L462.18 430.22L462.50 431.49L462.85 432.67L463.23 433.72L463.62 434.67L464.00 435.52L464.37 436.24L464.74 436.84L465.12 437.38L465.50 437.93L465.89 438.49L466.28 439.03L466.68 439.56L467.10 440.07L467.54 440.57L467.99 441.06L468.48 441.53L469.00 441.95L469.57 442.34L470.18 442.69L470.83 443.01L471.50 443.29L472.19 443.53L472.91 443.73L473.67 443.91L474.50 444.10L475.52 444.32L476.69 444.55L477.76 444.76L478.50 444.90L478.50 444.90Z" fill="#b90a3c" fill-opacity="0.55" stroke="#7a0020" stroke-opacity="1.0" stroke-width="1.1"/>
<path d="M442.70 444.90L442.70 444.90L442.88 444.73L443.14 444.49L443.43 444.18L443.70 443.81L443.95 443.39L444.20 442.92L444.45 442.34L444.70 441.62L444.95 440.71L445.20 439.67L445.45 438.50L445.70 437.24L445.95 435.89L446.20 434.43L446.45 432.88L446.70 431.22L446.95 429.45L447.20 427.56L447.45 425.59L447.70 423.56L447.95 421.49L448.20 419.35L448.45 417.13L448.70 414.80L448.95 412.31L449.20 409.69L449.45 407.03L449.70 404.41L449.95 401.79L450.20 399.16L450.45 396.62L450.70 394.28L450.95 392.16L451.21 390.20L451.46 388.43L451.70 386.90L451.92 385.64L452.12 384.62L452.31 383.79L452.50 383.07L452.66 382.41L452.81 381.87L452.97 381.51L453.20 381.42L453.51 381.82L453.89 382.59L454.29 383.32L454.70 383.61L455.13 383.07L455.58 382.01L456.02 381.06L456.40 380.88L456.70 381.67L456.94 383.08L457.16 384.90L457.40 386.90L457.67 389.12L457.94 391.65L458.22 394.34L458.50 397.02L458.80 399.76L459.10 402.61L459.40 405.40L459.70 407.96L459.98 410.19L460.25 412.19L460.52 414.13L460.80 416.17L461.09 418.44L461.39 420.82L461.70 423.14L462.00 425.20L462.29 426.96L462.58 428.52L462.88 429.92L463.20 431.22L463.55 432.42L463.93 433.49L464.32 434.46L464.70 435.32L465.07 436.06L465.44 436.67L465.82 437.23L466.20 437.79L466.59 438.36L466.98 438.91L467.38 439.45L467.80 439.98L468.24 440.49L468.69 440.98L469.18 441.46L469.70 441.89L470.27 442.28L470.88 442.64L471.53 442.97L472.20 443.26L472.89 443.50L473.61 443.70L474.37 443.89L475.20 444.08L476.22 444.30L477.39 444.54L478.46 444.75L479.20 444.90L479.20 444.90Z" fill="#284696" fill-opacity="0.45" stroke="#1a2a60" stroke-opacity="0.9" stroke-width="0.9"/>
<path d="M443.00 444.90L443.00 444.90L443.18 444.73L443.44 444.49L443.73 444.19L444.00 443.82L444.25 443.40L444.50 442.94L444.75 442.37L445.00 441.65L445.25 440.76L445.50 439.72L445.75 438.56L446.00 437.32L446.25 435.98L446.50 434.54L446.75 433.00L447.00 431.36L447.25 429.60L447.50 427.73L447.75 425.78L448.00 423.77L448.25 421.72L448.50 419.61L448.75 417.41L449.00 415.10L449.25 412.64L449.50 410.04L449.75 407.40L450.00 404.81L450.25 402.22L450.50 399.61L450.75 397.10L451.00 394.79L451.25 392.69L451.51 390.74L451.76 388.99L452.00 387.48L452.22 386.23L452.42 385.23L452.61 384.40L452.80 383.68L452.96 383.04L453.11 382.50L453.27 382.15L453.50 382.06L453.81 382.45L454.19 383.21L454.59 383.94L455.00 384.23L455.43 383.69L455.88 382.64L456.32 381.70L456.70 381.52L457.00 382.30L457.24 383.70L457.46 385.50L457.70 387.48L457.97 389.68L458.24 392.18L458.52 394.84L458.80 397.50L459.10 400.21L459.40 403.03L459.70 405.80L460.00 408.33L460.28 410.54L460.55 412.51L460.82 414.43L461.10 416.46L461.39 418.71L461.69 421.06L462.00 423.35L462.30 425.40L462.59 427.14L462.88 428.68L463.18 430.07L463.50 431.36L463.85 432.54L464.23 433.61L464.62 434.56L465.00 435.42L465.37 436.15L465.74 436.76L466.12 437.31L466.50 437.86L466.89 438.42L467.28 438.97L467.68 439.51L468.10 440.02L468.54 440.53L468.99 441.02L469.48 441.49L470.00 441.92L470.57 442.31L471.18 442.67L471.83 442.99L472.50 443.27L473.19 443.52L473.91 443.71L474.67 443.90L475.50 444.09L476.52 444.31L477.69 444.54L478.76 444.75L479.50 444.90L479.50 444.90Z" fill="#dc9632" fill-opacity="0.77" stroke="#dba234" stroke-opacity="0.95" stroke-width="0.9"/>
</g>
<rect x="434.60" y="371.70" width="76.70" height="73.80" fill="none" stroke="#111" stroke-width="1.6"/>
<path d="M431.60 444.90H434.60" stroke="#111" stroke-width="1.0"/>
<text x="429.40" y="447.10" font-size="6.3" text-anchor="end" fill="#222" stroke="#222" stroke-width="0.25">0</text>
<path d="M432.70 442.16H434.60" stroke="#111" stroke-width="0.8"/>
<path d="M432.70 439.43H434.60" stroke="#111" stroke-width="0.8"/>
<path d="M432.70 436.69H434.60" stroke="#111" stroke-width="0.8"/>
<path d="M432.70 433.96H434.60" stroke="#111" stroke-width="0.8"/>
<path d="M431.60 431.22H434.60" stroke="#111" stroke-width="1.0"/>
<text x="429.40" y="433.42" font-size="6.3" text-anchor="end" fill="#222" stroke="#222" stroke-width="0.25">50</text>
<path d="M432.70 428.48H434.60" stroke="#111" stroke-width="0.8"/>
<path d="M432.70 425.75H434.60" stroke="#111" stroke-width="0.8"/>
<path d="M432.70 423.01H434.60" stroke="#111" stroke-width="0.8"/>
<path d="M432.70 420.28H434.60" stroke="#111" stroke-width="0.8"/>
<path d="M431.60 417.54H434.60" stroke="#111" stroke-width="1.0"/>
<text x="429.40" y="419.74" font-size="6.3" text-anchor="end" fill="#222" stroke="#222" stroke-width="0.25">100</text>
<path d="M432.70 414.80H434.60" stroke="#111" stroke-width="0.8"/>
<path d="M432.70 412.07H434.60" stroke="#111" stroke-width="0.8"/>
<path d="M432.70 409.33H434.60" stroke="#111" stroke-width="0.8"/>
<path d="M432.70 406.60H434.60" stroke="#111" stroke-width="0.8"/>
<path d="M431.60 403.86H434.60" stroke="#111" stroke-width="1.0"/>
<text x="429.40" y="406.06" font-size="6.3" text-anchor="end" fill="#222" stroke="#222" stroke-width="0.25">150</text>
<path d="M432.70 401.12H434.60" stroke="#111" stroke-width="0.8"/>
<path d="M432.70 398.39H434.60" stroke="#111" stroke-width="0.8"/>
<path d="M432.70 395.65H434.60" stroke="#111" stroke-width="0.8"/>
<path d="M432.70 392.92H434.60" stroke="#111" stroke-width="0.8"/>
<path d="M431.60 390.18H434.60" stroke="#111" stroke-width="1.0"/>
<text x="429.40" y="392.38" font-size="6.3" text-anchor="end" fill="#222" stroke="#222" stroke-width="0.25">200</text>
<path d="M432.70 387.44H434.60" stroke="#111" stroke-width="0.8"/>
<path d="M432.70 384.71H434.60" stroke="#111" stroke-width="0.8"/>
<path d="M432.70 381.97H434.60" stroke="#111" stroke-width="0.8"/>
<path d="M432.70 379.24H434.60" stroke="#111" stroke-width="0.8"/>
<path d="M431.60 376.50H434.60" stroke="#111" stroke-width="1.0"/>
<text x="429.40" y="378.70" font-size="6.3" text-anchor="end" fill="#222" stroke="#222" stroke-width="0.25">250</text>
<path d="M438.60 445.50V448.70" stroke="#111" stroke-width="1.0"/>
<path d="M448.60 445.50V448.70" stroke="#111" stroke-width="1.0"/>
<path d="M458.60 445.50V448.70" stroke="#111" stroke-width="1.0"/>
<path d="M470.90 445.50V448.70" stroke="#111" stroke-width="1.0"/>
<path d="M487.90 445.50V448.70" stroke="#111" stroke-width="1.0"/>
<path d="M504.10 445.50V448.70" stroke="#111" stroke-width="1.0"/>
<path d="M476.02 445.50V447.70" stroke="#111" stroke-width="0.7"/>
<path d="M479.01 445.50V447.70" stroke="#111" stroke-width="0.7"/>
<path d="M481.14 445.50V447.70" stroke="#111" stroke-width="0.7"/>
<path d="M482.78 445.50V447.70" stroke="#111" stroke-width="0.7"/>
<path d="M484.13 445.50V447.70" stroke="#111" stroke-width="0.7"/>
<path d="M485.27 445.50V447.70" stroke="#111" stroke-width="0.7"/>
<path d="M486.25 445.50V447.70" stroke="#111" stroke-width="0.7"/>
<path d="M487.12 445.50V447.70" stroke="#111" stroke-width="0.7"/>
<path d="M492.78 445.50V447.70" stroke="#111" stroke-width="0.7"/>
<path d="M495.63 445.50V447.70" stroke="#111" stroke-width="0.7"/>
<path d="M497.65 445.50V447.70" stroke="#111" stroke-width="0.7"/>
<path d="M499.22 445.50V447.70" stroke="#111" stroke-width="0.7"/>
<path d="M500.51 445.50V447.70" stroke="#111" stroke-width="0.7"/>
<path d="M501.59 445.50V447.70" stroke="#111" stroke-width="0.7"/>
<path d="M502.53 445.50V447.70" stroke="#111" stroke-width="0.7"/>
<path d="M503.36 445.50V447.70" stroke="#111" stroke-width="0.7"/>
<path d="M460.60 445.50V447.70" stroke="#111" stroke-width="0.7"/>
<path d="M462.60 445.50V447.70" stroke="#111" stroke-width="0.7"/>
<path d="M464.60 445.50V447.70" stroke="#111" stroke-width="0.7"/>
<path d="M466.60 445.50V447.70" stroke="#111" stroke-width="0.7"/>
<path d="M468.60 445.50V447.70" stroke="#111" stroke-width="0.7"/>
<path d="M440.60 445.50V447.70" stroke="#111" stroke-width="0.7"/>
<path d="M442.60 445.50V447.70" stroke="#111" stroke-width="0.7"/>
<path d="M444.60 445.50V447.70" stroke="#111" stroke-width="0.7"/>
<path d="M446.60 445.50V447.70" stroke="#111" stroke-width="0.7"/>
<path d="M450.60 445.50V447.70" stroke="#111" stroke-width="0.7"/>
<path d="M452.60 445.50V447.70" stroke="#111" stroke-width="0.7"/>
<path d="M454.60 445.50V447.70" stroke="#111" stroke-width="0.7"/>
<path d="M456.60 445.50V447.70" stroke="#111" stroke-width="0.7"/>
<text x="448.60" y="455.50" font-size="6.0" text-anchor="middle" fill="#222" stroke="#222" stroke-width="0.2">0</text>
<text x="470.90" y="455.50" font-size="6.0" text-anchor="middle" fill="#222" stroke="#222" stroke-width="0.2">10<tspan font-size="4" dy="-2.6">3</tspan></text>
<text x="487.90" y="455.50" font-size="6.0" text-anchor="middle" fill="#222" stroke="#222" stroke-width="0.2">10<tspan font-size="4" dy="-2.6">4</tspan></text>
<text x="504.10" y="455.50" font-size="6.0" text-anchor="middle" fill="#222" stroke="#222" stroke-width="0.2">10<tspan font-size="4" dy="-2.6">5</tspan></text>
<text x="473.15" y="466.70" font-size="9" text-anchor="middle" font-weight="bold" textLength="15.4" lengthAdjust="spacingAndGlyphs" fill="#1a1a1a">PD-L1</text>
<text x="472.95" y="366.90" font-size="8.6" text-anchor="middle" fill="#111" stroke="#111" stroke-width="0.15">+G-CSF</text>
<clipPath id="c47_475"><rect x="47.5" y="475.5" width="76.7" height="73.5"/></clipPath>
<g clip-path="url(#c47_475)">
<path d="M53.50 548.40L53.50 548.40L53.88 548.30L54.42 548.17L55.00 547.95L55.50 547.60L55.88 547.10L56.20 546.49L56.50 545.77L56.80 544.92L57.10 543.97L57.40 542.90L57.70 541.70L58.00 540.37L58.30 539.04L58.61 537.68L58.93 535.99L59.30 533.68L59.74 530.54L60.22 526.77L60.72 522.71L61.20 518.70L61.66 514.70L62.12 510.58L62.57 506.51L63.00 502.64L63.41 498.85L63.80 495.11L64.17 491.73L64.50 488.99L64.79 486.94L65.04 485.43L65.27 484.50L65.50 484.18L65.73 484.72L65.96 486.03L66.18 487.62L66.40 488.99L66.61 490.00L66.81 490.92L67.03 491.87L67.30 493.01L67.64 494.39L68.03 495.93L68.43 497.55L68.80 499.16L69.11 500.70L69.40 502.22L69.69 503.82L70.00 505.58L70.35 507.59L70.73 509.77L71.12 511.99L71.50 514.15L71.86 516.18L72.22 518.16L72.59 520.14L73.00 522.18L73.45 524.37L73.94 526.66L74.45 528.85L75.00 530.74L75.58 532.24L76.19 533.46L76.83 534.53L77.50 535.56L78.19 536.49L78.91 537.31L79.67 538.12L80.50 539.03L81.43 540.13L82.44 541.34L83.48 542.53L84.50 543.58L85.50 544.46L86.50 545.24L87.50 545.92L88.50 546.53L89.52 547.05L90.56 547.50L91.57 547.86L92.50 548.13L93.39 548.30L94.25 548.37L94.98 548.38L95.50 548.40L95.50 548.40Z" fill="#b90a3c" fill-opacity="0.55" stroke="#7a0020" stroke-opacity="1.0" stroke-width="1.1"/>
<path d="M55.50 548.40L55.50 548.40L55.77 548.22L56.17 547.97L56.60 547.66L57.00 547.33L57.34 547.02L57.67 546.71L57.99 546.31L58.30 545.72L58.60 544.92L58.90 543.95L59.20 542.86L59.50 541.71L59.80 540.61L60.11 539.50L60.43 538.16L60.80 536.36L61.24 533.95L61.72 531.09L62.22 527.99L62.70 524.85L63.15 521.57L63.59 518.08L64.04 514.70L64.50 511.74L65.00 509.27L65.52 507.12L66.03 505.28L66.50 503.71L66.91 502.46L67.29 501.54L67.65 500.83L68.00 500.23L68.34 499.62L68.67 499.08L68.99 498.85L69.30 499.16L69.61 500.18L69.91 501.74L70.20 503.61L70.50 505.58L70.80 507.73L71.10 510.12L71.40 512.51L71.70 514.68L72.00 516.56L72.29 518.28L72.59 519.87L72.90 521.37L73.22 522.79L73.54 524.10L73.87 525.32L74.20 526.46L74.53 527.53L74.86 528.53L75.18 529.43L75.50 530.20L75.79 530.82L76.07 531.29L76.36 531.69L76.70 532.08L77.09 532.45L77.52 532.80L77.99 533.11L78.50 533.41L79.06 533.68L79.66 533.90L80.31 534.15L81.00 534.48L81.79 534.93L82.66 535.45L83.50 536.03L84.20 536.63L84.71 537.26L85.11 537.93L85.44 538.62L85.80 539.30L86.19 539.98L86.57 540.66L86.95 541.33L87.30 541.98L87.62 542.61L87.91 543.23L88.20 543.83L88.50 544.39L88.81 544.90L89.12 545.37L89.44 545.82L89.80 546.26L90.19 546.70L90.61 547.15L91.04 547.54L91.50 547.86L92.03 548.09L92.61 548.23L93.13 548.33L93.50 548.40L93.50 548.40Z" fill="#284696" fill-opacity="0.45" stroke="#1a2a60" stroke-opacity="0.9" stroke-width="0.9"/>
<path d="M55.50 548.40L55.50 548.40L55.77 548.22L56.17 547.97L56.60 547.66L57.00 547.33L57.34 547.02L57.67 546.71L57.99 546.31L58.30 545.72L58.60 544.92L58.90 543.95L59.20 542.86L59.50 541.71L59.80 540.62L60.11 539.54L60.43 538.20L60.80 536.36L61.24 533.85L61.72 530.84L62.22 527.58L62.70 524.32L63.15 520.94L63.59 517.38L64.04 513.94L64.50 510.94L65.00 508.45L65.52 506.30L66.03 504.47L66.50 502.91L66.91 501.66L67.29 500.73L67.65 500.02L68.00 499.43L68.34 498.80L68.67 498.23L68.99 497.99L69.30 498.36L69.61 499.53L69.91 501.30L70.20 503.41L70.50 505.58L70.80 507.89L71.10 510.42L71.40 512.94L71.70 515.22L72.00 517.18L72.29 518.96L72.59 520.61L72.90 522.18L73.22 523.66L73.54 525.05L73.87 526.34L74.20 527.53L74.53 528.62L74.86 529.62L75.18 530.51L75.50 531.27L75.79 531.88L76.07 532.34L76.36 532.74L76.70 533.15L77.09 533.58L77.52 534.00L77.99 534.39L78.50 534.75L79.06 535.04L79.66 535.27L80.31 535.51L81.00 535.82L81.79 536.22L82.66 536.68L83.50 537.17L84.20 537.70L84.71 538.26L85.11 538.87L85.44 539.49L85.80 540.10L86.19 540.71L86.57 541.33L86.95 541.93L87.30 542.51L87.62 543.08L87.91 543.63L88.20 544.16L88.50 544.65L88.81 545.09L89.12 545.49L89.44 545.87L89.80 546.26L90.19 546.69L90.61 547.13L91.04 547.54L91.50 547.86L92.03 548.09L92.61 548.23L93.13 548.33L93.50 548.40L93.50 548.40Z" fill="#dc9632" fill-opacity="0.77" stroke="#dba234" stroke-opacity="0.95" stroke-width="0.9"/>
</g>
<rect x="47.50" y="475.50" width="76.70" height="73.50" fill="none" stroke="#111" stroke-width="1.6"/>
<path d="M44.50 548.40H47.50" stroke="#111" stroke-width="1.0"/>
<text x="42.30" y="550.60" font-size="6.3" text-anchor="end" fill="#222" stroke="#222" stroke-width="0.25">0</text>
<path d="M45.60 545.72H47.50" stroke="#111" stroke-width="0.8"/>
<path d="M45.60 543.05H47.50" stroke="#111" stroke-width="0.8"/>
<path d="M45.60 540.37H47.50" stroke="#111" stroke-width="0.8"/>
<path d="M45.60 537.70H47.50" stroke="#111" stroke-width="0.8"/>
<path d="M44.50 535.02H47.50" stroke="#111" stroke-width="1.0"/>
<text x="42.30" y="537.22" font-size="6.3" text-anchor="end" fill="#222" stroke="#222" stroke-width="0.25">50</text>
<path d="M45.60 532.34H47.50" stroke="#111" stroke-width="0.8"/>
<path d="M45.60 529.67H47.50" stroke="#111" stroke-width="0.8"/>
<path d="M45.60 526.99H47.50" stroke="#111" stroke-width="0.8"/>
<path d="M45.60 524.32H47.50" stroke="#111" stroke-width="0.8"/>
<path d="M44.50 521.64H47.50" stroke="#111" stroke-width="1.0"/>
<text x="42.30" y="523.84" font-size="6.3" text-anchor="end" fill="#222" stroke="#222" stroke-width="0.25">100</text>
<path d="M45.60 518.96H47.50" stroke="#111" stroke-width="0.8"/>
<path d="M45.60 516.29H47.50" stroke="#111" stroke-width="0.8"/>
<path d="M45.60 513.61H47.50" stroke="#111" stroke-width="0.8"/>
<path d="M45.60 510.94H47.50" stroke="#111" stroke-width="0.8"/>
<path d="M44.50 508.26H47.50" stroke="#111" stroke-width="1.0"/>
<text x="42.30" y="510.46" font-size="6.3" text-anchor="end" fill="#222" stroke="#222" stroke-width="0.25">150</text>
<path d="M45.60 505.58H47.50" stroke="#111" stroke-width="0.8"/>
<path d="M45.60 502.91H47.50" stroke="#111" stroke-width="0.8"/>
<path d="M45.60 500.23H47.50" stroke="#111" stroke-width="0.8"/>
<path d="M45.60 497.56H47.50" stroke="#111" stroke-width="0.8"/>
<path d="M44.50 494.88H47.50" stroke="#111" stroke-width="1.0"/>
<text x="42.30" y="497.08" font-size="6.3" text-anchor="end" fill="#222" stroke="#222" stroke-width="0.25">200</text>
<path d="M45.60 492.20H47.50" stroke="#111" stroke-width="0.8"/>
<path d="M45.60 489.53H47.50" stroke="#111" stroke-width="0.8"/>
<path d="M45.60 486.85H47.50" stroke="#111" stroke-width="0.8"/>
<path d="M45.60 484.18H47.50" stroke="#111" stroke-width="0.8"/>
<path d="M44.50 481.50H47.50" stroke="#111" stroke-width="1.0"/>
<text x="42.30" y="483.70" font-size="6.3" text-anchor="end" fill="#222" stroke="#222" stroke-width="0.25">250</text>
<path d="M51.50 549.00V552.20" stroke="#111" stroke-width="1.0"/>
<path d="M61.50 549.00V552.20" stroke="#111" stroke-width="1.0"/>
<path d="M71.50 549.00V552.20" stroke="#111" stroke-width="1.0"/>
<path d="M83.80 549.00V552.20" stroke="#111" stroke-width="1.0"/>
<path d="M100.80 549.00V552.20" stroke="#111" stroke-width="1.0"/>
<path d="M117.00 549.00V552.20" stroke="#111" stroke-width="1.0"/>
<path d="M88.92 549.00V551.20" stroke="#111" stroke-width="0.7"/>
<path d="M91.91 549.00V551.20" stroke="#111" stroke-width="0.7"/>
<path d="M94.04 549.00V551.20" stroke="#111" stroke-width="0.7"/>
<path d="M95.68 549.00V551.20" stroke="#111" stroke-width="0.7"/>
<path d="M97.03 549.00V551.20" stroke="#111" stroke-width="0.7"/>
<path d="M98.17 549.00V551.20" stroke="#111" stroke-width="0.7"/>
<path d="M99.15 549.00V551.20" stroke="#111" stroke-width="0.7"/>
<path d="M100.02 549.00V551.20" stroke="#111" stroke-width="0.7"/>
<path d="M105.68 549.00V551.20" stroke="#111" stroke-width="0.7"/>
<path d="M108.53 549.00V551.20" stroke="#111" stroke-width="0.7"/>
<path d="M110.55 549.00V551.20" stroke="#111" stroke-width="0.7"/>
<path d="M112.12 549.00V551.20" stroke="#111" stroke-width="0.7"/>
<path d="M113.41 549.00V551.20" stroke="#111" stroke-width="0.7"/>
<path d="M114.49 549.00V551.20" stroke="#111" stroke-width="0.7"/>
<path d="M115.43 549.00V551.20" stroke="#111" stroke-width="0.7"/>
<path d="M116.26 549.00V551.20" stroke="#111" stroke-width="0.7"/>
<path d="M73.50 549.00V551.20" stroke="#111" stroke-width="0.7"/>
<path d="M75.50 549.00V551.20" stroke="#111" stroke-width="0.7"/>
<path d="M77.50 549.00V551.20" stroke="#111" stroke-width="0.7"/>
<path d="M79.50 549.00V551.20" stroke="#111" stroke-width="0.7"/>
<path d="M81.50 549.00V551.20" stroke="#111" stroke-width="0.7"/>
<path d="M53.50 549.00V551.20" stroke="#111" stroke-width="0.7"/>
<path d="M55.50 549.00V551.20" stroke="#111" stroke-width="0.7"/>
<path d="M57.50 549.00V551.20" stroke="#111" stroke-width="0.7"/>
<path d="M59.50 549.00V551.20" stroke="#111" stroke-width="0.7"/>
<path d="M63.50 549.00V551.20" stroke="#111" stroke-width="0.7"/>
<path d="M65.50 549.00V551.20" stroke="#111" stroke-width="0.7"/>
<path d="M67.50 549.00V551.20" stroke="#111" stroke-width="0.7"/>
<path d="M69.50 549.00V551.20" stroke="#111" stroke-width="0.7"/>
<text x="61.50" y="559.00" font-size="6.0" text-anchor="middle" fill="#222" stroke="#222" stroke-width="0.2">0</text>
<text x="83.80" y="559.00" font-size="6.0" text-anchor="middle" fill="#222" stroke="#222" stroke-width="0.2">10<tspan font-size="4" dy="-2.6">3</tspan></text>
<text x="100.80" y="559.00" font-size="6.0" text-anchor="middle" fill="#222" stroke="#222" stroke-width="0.2">10<tspan font-size="4" dy="-2.6">4</tspan></text>
<text x="117.00" y="559.00" font-size="6.0" text-anchor="middle" fill="#222" stroke="#222" stroke-width="0.2">10<tspan font-size="4" dy="-2.6">5</tspan></text>
<text x="86.05" y="570.20" font-size="9" text-anchor="middle" font-weight="bold" textLength="15.4" lengthAdjust="spacingAndGlyphs" fill="#1a1a1a">PD-L1</text>
<clipPath id="c144_475"><rect x="144.3" y="475.5" width="76.7" height="73.5"/></clipPath>
<g clip-path="url(#c144_475)">
<path d="M150.30 548.40L150.30 548.40L150.79 548.19L151.50 547.90L152.26 547.46L152.90 546.79L153.38 545.83L153.80 544.62L154.17 543.29L154.50 541.98L154.77 540.79L154.98 539.64L155.20 538.31L155.50 536.63L155.91 534.62L156.39 532.38L156.90 529.71L157.40 526.46L157.89 522.09L158.39 516.86L158.87 511.74L159.30 507.72L159.67 505.35L159.99 504.00L160.29 502.90L160.60 501.30L160.93 498.88L161.27 496.08L161.60 493.29L161.90 490.87L162.18 488.72L162.44 486.72L162.68 485.18L162.90 484.44L163.09 484.80L163.26 486.02L163.43 487.58L163.60 488.99L163.79 490.24L163.99 491.55L164.19 492.79L164.40 493.81L164.62 494.53L164.84 495.05L165.07 495.48L165.30 495.95L165.53 496.30L165.76 496.52L166.01 496.99L166.30 498.09L166.65 500.11L167.04 502.77L167.44 505.64L167.80 508.26L168.08 510.44L168.33 512.46L168.58 514.51L168.90 516.82L169.32 519.62L169.80 522.73L170.31 525.76L170.80 528.33L171.24 530.30L171.64 531.89L172.11 533.24L172.70 534.48L173.45 535.57L174.31 536.44L175.26 537.28L176.30 538.23L177.48 539.40L178.78 540.67L180.09 541.93L181.30 543.05L182.37 544.00L183.36 544.85L184.32 545.61L185.30 546.26L186.30 546.80L187.30 547.23L188.30 547.58L189.30 547.86L190.39 548.09L191.55 548.23L192.58 548.33L193.30 548.40L193.30 548.40Z" fill="#b90a3c" fill-opacity="0.55" stroke="#7a0020" stroke-opacity="1.0" stroke-width="1.1"/>
<path d="M152.30 548.40L152.30 548.40L152.67 548.21L153.21 547.95L153.79 547.58L154.30 547.06L154.72 546.40L155.10 545.61L155.46 544.67L155.80 543.58L156.10 542.39L156.38 541.09L156.66 539.56L157.00 537.70L157.43 535.47L157.91 532.95L158.41 530.12L158.90 526.99L159.39 523.24L159.89 518.96L160.37 514.82L160.80 511.47L161.17 509.16L161.49 507.51L161.79 506.23L162.10 505.05L162.42 503.94L162.74 503.04L163.07 502.28L163.40 501.57L163.74 500.91L164.09 500.33L164.44 499.84L164.80 499.43L165.17 498.95L165.56 498.46L165.94 498.25L166.30 498.63L166.64 499.80L166.96 501.55L167.28 503.59L167.60 505.58L167.91 507.43L168.21 509.30L168.53 511.32L168.90 513.61L169.33 516.44L169.81 519.67L170.31 522.81L170.80 525.39L171.27 527.26L171.74 528.68L172.21 529.80L172.70 530.74L173.22 531.48L173.76 531.96L174.29 532.30L174.80 532.61L175.26 532.87L175.69 533.03L176.13 533.18L176.60 533.41L177.12 533.73L177.68 534.10L178.24 534.52L178.80 535.02L179.35 535.61L179.91 536.29L180.46 537.00L181.00 537.70L181.52 538.37L182.02 539.05L182.51 539.72L183.00 540.37L183.48 540.99L183.96 541.59L184.43 542.18L184.90 542.78L185.38 543.40L185.85 544.02L186.33 544.62L186.80 545.19L187.24 545.71L187.64 546.19L188.11 546.64L188.70 547.06L189.56 547.47L190.62 547.85L191.61 548.17L192.30 548.40L192.30 548.40Z" fill="#284696" fill-opacity="0.45" stroke="#1a2a60" stroke-opacity="0.9" stroke-width="0.9"/>
<path d="M152.30 548.40L152.30 548.40L152.67 548.21L153.21 547.95L153.79 547.58L154.30 547.06L154.72 546.40L155.10 545.61L155.46 544.67L155.80 543.58L156.10 542.39L156.38 541.09L156.66 539.56L157.00 537.70L157.43 535.48L157.91 532.98L158.41 530.16L158.90 526.99L159.39 523.13L159.89 518.71L160.37 514.42L160.80 510.94L161.17 508.53L161.49 506.80L161.79 505.47L162.10 504.25L162.42 503.12L162.74 502.22L163.07 501.47L163.40 500.77L163.74 500.11L164.09 499.55L164.44 499.05L164.80 498.63L165.17 498.07L165.56 497.46L165.94 497.16L166.30 497.56L166.64 498.92L166.96 500.98L167.28 503.34L167.60 505.58L167.91 507.54L168.21 509.45L168.53 511.50L168.90 513.88L169.33 516.90L169.81 520.37L170.31 523.74L170.80 526.46L171.27 528.32L171.74 529.65L172.21 530.65L172.70 531.54L173.22 532.30L173.76 532.85L174.29 533.27L174.80 533.68L175.26 534.07L175.69 534.40L176.13 534.70L176.60 535.02L177.12 535.33L177.68 535.62L178.24 535.95L178.80 536.36L179.35 536.89L179.91 537.51L180.46 538.16L181.00 538.77L181.52 539.31L182.02 539.84L182.51 540.36L183.00 540.91L183.48 541.50L183.96 542.11L184.43 542.73L184.90 543.32L185.38 543.88L185.85 544.44L186.33 544.97L186.80 545.46L187.24 545.90L187.64 546.31L188.11 546.69L188.70 547.06L189.56 547.45L190.62 547.83L191.61 548.17L192.30 548.40L192.30 548.40Z" fill="#dc9632" fill-opacity="0.77" stroke="#dba234" stroke-opacity="0.95" stroke-width="0.9"/>
</g>
<rect x="144.30" y="475.50" width="76.70" height="73.50" fill="none" stroke="#111" stroke-width="1.6"/>
<path d="M141.30 548.40H144.30" stroke="#111" stroke-width="1.0"/>
<text x="139.10" y="550.60" font-size="6.3" text-anchor="end" fill="#222" stroke="#222" stroke-width="0.25">0</text>
<path d="M142.40 545.72H144.30" stroke="#111" stroke-width="0.8"/>
<path d="M142.40 543.05H144.30" stroke="#111" stroke-width="0.8"/>
<path d="M142.40 540.37H144.30" stroke="#111" stroke-width="0.8"/>
<path d="M142.40 537.70H144.30" stroke="#111" stroke-width="0.8"/>
<path d="M141.30 535.02H144.30" stroke="#111" stroke-width="1.0"/>
<text x="139.10" y="537.22" font-size="6.3" text-anchor="end" fill="#222" stroke="#222" stroke-width="0.25">50</text>
<path d="M142.40 532.34H144.30" stroke="#111" stroke-width="0.8"/>
<path d="M142.40 529.67H144.30" stroke="#111" stroke-width="0.8"/>
<path d="M142.40 526.99H144.30" stroke="#111" stroke-width="0.8"/>
<path d="M142.40 524.32H144.30" stroke="#111" stroke-width="0.8"/>
<path d="M141.30 521.64H144.30" stroke="#111" stroke-width="1.0"/>
<text x="139.10" y="523.84" font-size="6.3" text-anchor="end" fill="#222" stroke="#222" stroke-width="0.25">100</text>
<path d="M142.40 518.96H144.30" stroke="#111" stroke-width="0.8"/>
<path d="M142.40 516.29H144.30" stroke="#111" stroke-width="0.8"/>
<path d="M142.40 513.61H144.30" stroke="#111" stroke-width="0.8"/>
<path d="M142.40 510.94H144.30" stroke="#111" stroke-width="0.8"/>
<path d="M141.30 508.26H144.30" stroke="#111" stroke-width="1.0"/>
<text x="139.10" y="510.46" font-size="6.3" text-anchor="end" fill="#222" stroke="#222" stroke-width="0.25">150</text>
<path d="M142.40 505.58H144.30" stroke="#111" stroke-width="0.8"/>
<path d="M142.40 502.91H144.30" stroke="#111" stroke-width="0.8"/>
<path d="M142.40 500.23H144.30" stroke="#111" stroke-width="0.8"/>
<path d="M142.40 497.56H144.30" stroke="#111" stroke-width="0.8"/>
<path d="M141.30 494.88H144.30" stroke="#111" stroke-width="1.0"/>
<text x="139.10" y="497.08" font-size="6.3" text-anchor="end" fill="#222" stroke="#222" stroke-width="0.25">200</text>
<path d="M142.40 492.20H144.30" stroke="#111" stroke-width="0.8"/>
<path d="M142.40 489.53H144.30" stroke="#111" stroke-width="0.8"/>
<path d="M142.40 486.85H144.30" stroke="#111" stroke-width="0.8"/>
<path d="M142.40 484.18H144.30" stroke="#111" stroke-width="0.8"/>
<path d="M141.30 481.50H144.30" stroke="#111" stroke-width="1.0"/>
<text x="139.10" y="483.70" font-size="6.3" text-anchor="end" fill="#222" stroke="#222" stroke-width="0.25">250</text>
<path d="M148.30 549.00V552.20" stroke="#111" stroke-width="1.0"/>
<path d="M158.30 549.00V552.20" stroke="#111" stroke-width="1.0"/>
<path d="M168.30 549.00V552.20" stroke="#111" stroke-width="1.0"/>
<path d="M180.60 549.00V552.20" stroke="#111" stroke-width="1.0"/>
<path d="M197.60 549.00V552.20" stroke="#111" stroke-width="1.0"/>
<path d="M213.80 549.00V552.20" stroke="#111" stroke-width="1.0"/>
<path d="M185.72 549.00V551.20" stroke="#111" stroke-width="0.7"/>
<path d="M188.71 549.00V551.20" stroke="#111" stroke-width="0.7"/>
<path d="M190.84 549.00V551.20" stroke="#111" stroke-width="0.7"/>
<path d="M192.48 549.00V551.20" stroke="#111" stroke-width="0.7"/>
<path d="M193.83 549.00V551.20" stroke="#111" stroke-width="0.7"/>
<path d="M194.97 549.00V551.20" stroke="#111" stroke-width="0.7"/>
<path d="M195.95 549.00V551.20" stroke="#111" stroke-width="0.7"/>
<path d="M196.82 549.00V551.20" stroke="#111" stroke-width="0.7"/>
<path d="M202.48 549.00V551.20" stroke="#111" stroke-width="0.7"/>
<path d="M205.33 549.00V551.20" stroke="#111" stroke-width="0.7"/>
<path d="M207.35 549.00V551.20" stroke="#111" stroke-width="0.7"/>
<path d="M208.92 549.00V551.20" stroke="#111" stroke-width="0.7"/>
<path d="M210.21 549.00V551.20" stroke="#111" stroke-width="0.7"/>
<path d="M211.29 549.00V551.20" stroke="#111" stroke-width="0.7"/>
<path d="M212.23 549.00V551.20" stroke="#111" stroke-width="0.7"/>
<path d="M213.06 549.00V551.20" stroke="#111" stroke-width="0.7"/>
<path d="M170.30 549.00V551.20" stroke="#111" stroke-width="0.7"/>
<path d="M172.30 549.00V551.20" stroke="#111" stroke-width="0.7"/>
<path d="M174.30 549.00V551.20" stroke="#111" stroke-width="0.7"/>
<path d="M176.30 549.00V551.20" stroke="#111" stroke-width="0.7"/>
<path d="M178.30 549.00V551.20" stroke="#111" stroke-width="0.7"/>
<path d="M150.30 549.00V551.20" stroke="#111" stroke-width="0.7"/>
<path d="M152.30 549.00V551.20" stroke="#111" stroke-width="0.7"/>
<path d="M154.30 549.00V551.20" stroke="#111" stroke-width="0.7"/>
<path d="M156.30 549.00V551.20" stroke="#111" stroke-width="0.7"/>
<path d="M160.30 549.00V551.20" stroke="#111" stroke-width="0.7"/>
<path d="M162.30 549.00V551.20" stroke="#111" stroke-width="0.7"/>
<path d="M164.30 549.00V551.20" stroke="#111" stroke-width="0.7"/>
<path d="M166.30 549.00V551.20" stroke="#111" stroke-width="0.7"/>
<text x="158.30" y="559.00" font-size="6.0" text-anchor="middle" fill="#222" stroke="#222" stroke-width="0.2">0</text>
<text x="180.60" y="559.00" font-size="6.0" text-anchor="middle" fill="#222" stroke="#222" stroke-width="0.2">10<tspan font-size="4" dy="-2.6">3</tspan></text>
<text x="197.60" y="559.00" font-size="6.0" text-anchor="middle" fill="#222" stroke="#222" stroke-width="0.2">10<tspan font-size="4" dy="-2.6">4</tspan></text>
<text x="213.80" y="559.00" font-size="6.0" text-anchor="middle" fill="#222" stroke="#222" stroke-width="0.2">10<tspan font-size="4" dy="-2.6">5</tspan></text>
<text x="182.85" y="570.20" font-size="9" text-anchor="middle" font-weight="bold" textLength="15.4" lengthAdjust="spacingAndGlyphs" fill="#1a1a1a">PD-L1</text>
<clipPath id="c241_475"><rect x="241.3" y="475.5" width="76.7" height="73.5"/></clipPath>
<g clip-path="url(#c241_475)">
<path d="M247.30 548.40L247.30 548.40L247.78 548.26L248.48 548.08L249.23 547.73L249.90 547.06L250.45 546.01L250.96 544.65L251.44 543.10L251.90 541.44L252.33 539.70L252.73 537.81L253.12 535.80L253.50 533.68L253.89 531.39L254.27 528.95L254.64 526.46L255.00 524.05L255.34 521.75L255.66 519.50L255.98 517.25L256.30 514.95L256.62 512.66L256.95 510.38L257.28 507.98L257.60 505.32L257.93 502.14L258.27 498.61L258.60 495.15L258.90 492.20L259.17 489.68L259.42 487.40L259.66 485.73L259.90 484.98L260.15 485.57L260.39 487.20L260.64 489.20L260.90 490.87L261.19 492.03L261.50 493.06L261.81 494.06L262.10 495.15L262.37 496.34L262.62 497.57L262.86 498.87L263.10 500.23L263.32 501.64L263.53 503.09L263.75 504.65L264.00 506.39L264.29 508.37L264.61 510.55L264.95 512.79L265.30 514.95L265.65 516.98L266.01 518.95L266.39 520.93L266.80 522.98L267.25 525.23L267.74 527.61L268.25 529.88L268.80 531.81L269.38 533.29L269.99 534.47L270.63 535.45L271.30 536.36L271.99 537.11L272.71 537.70L273.47 538.28L274.30 539.03L275.23 540.08L276.24 541.29L277.28 542.51L278.30 543.58L279.30 544.46L280.30 545.24L281.30 545.92L282.30 546.53L283.32 547.05L284.36 547.50L285.37 547.86L286.30 548.13L287.19 548.30L288.05 548.37L288.78 548.38L289.30 548.40L289.30 548.40Z" fill="#b90a3c" fill-opacity="0.55" stroke="#7a0020" stroke-opacity="1.0" stroke-width="1.1"/>
<path d="M248.80 548.40L248.80 548.40L249.17 548.19L249.71 547.90L250.29 547.52L250.80 547.06L251.21 546.55L251.58 545.97L251.94 545.27L252.30 544.39L252.67 543.32L253.04 542.09L253.41 540.68L253.80 539.03L254.21 537.11L254.64 534.95L255.08 532.62L255.50 530.20L255.90 527.63L256.29 524.88L256.69 522.13L257.10 519.50L257.55 516.93L258.01 514.36L258.47 512.03L258.90 510.13L259.27 508.82L259.60 507.96L259.93 507.31L260.30 506.65L260.72 505.78L261.18 504.85L261.65 504.22L262.10 504.25L262.52 505.18L262.93 506.77L263.35 508.64L263.80 510.40L264.30 511.95L264.84 513.49L265.38 515.10L265.90 516.82L266.39 518.74L266.86 520.79L267.33 522.86L267.80 524.85L268.28 526.86L268.77 528.92L269.25 530.74L269.70 532.08L270.09 532.75L270.44 532.93L270.82 532.89L271.30 532.88L271.96 532.90L272.75 532.83L273.54 532.79L274.20 532.88L274.71 533.17L275.12 533.60L275.47 534.06L275.80 534.48L276.07 534.80L276.28 535.07L276.49 535.38L276.80 535.82L277.23 536.45L277.75 537.19L278.29 537.99L278.80 538.77L279.25 539.49L279.69 540.20L280.13 540.94L280.60 541.71L281.14 542.58L281.71 543.52L282.28 544.42L282.80 545.19L283.21 545.78L283.56 546.26L283.92 546.67L284.40 547.06L285.10 547.47L285.95 547.85L286.75 548.17L287.30 548.40L287.30 548.40Z" fill="#284696" fill-opacity="0.45" stroke="#1a2a60" stroke-opacity="0.9" stroke-width="0.9"/>
<path d="M248.80 548.40L248.80 548.40L249.17 548.19L249.71 547.90L250.29 547.52L250.80 547.06L251.21 546.55L251.58 545.97L251.94 545.27L252.30 544.39L252.67 543.33L253.04 542.13L253.41 540.72L253.80 539.03L254.21 537.01L254.64 534.69L255.08 532.20L255.50 529.67L255.90 527.05L256.29 524.32L256.69 521.58L257.10 518.96L257.55 516.39L258.01 513.83L258.47 511.49L258.90 509.60L259.27 508.25L259.60 507.31L259.93 506.64L260.30 506.12L260.72 505.65L261.18 505.33L261.65 505.27L262.10 505.58L262.52 506.38L262.93 507.57L263.35 508.98L263.80 510.40L264.30 511.81L264.84 513.31L265.38 514.89L265.90 516.56L266.39 518.34L266.86 520.24L267.33 522.16L267.80 524.05L268.28 526.02L268.77 528.08L269.25 529.93L269.70 531.27L270.09 531.96L270.44 532.16L270.82 532.12L271.30 532.08L271.96 531.97L272.75 531.73L273.54 531.52L274.20 531.54L274.71 531.90L275.12 532.48L275.47 533.12L275.80 533.68L276.07 534.09L276.28 534.43L276.49 534.80L276.80 535.29L277.23 535.92L277.75 536.66L278.29 537.45L278.80 538.23L279.25 539.00L279.69 539.79L280.13 540.60L280.60 541.44L281.14 542.39L281.71 543.40L282.28 544.37L282.80 545.19L283.21 545.80L283.56 546.28L283.92 546.68L284.40 547.06L285.10 547.47L285.95 547.85L286.75 548.17L287.30 548.40L287.30 548.40Z" fill="#dc9632" fill-opacity="0.77" stroke="#dba234" stroke-opacity="0.95" stroke-width="0.9"/>
</g>
<rect x="241.30" y="475.50" width="76.70" height="73.50" fill="none" stroke="#111" stroke-width="1.6"/>
<path d="M238.30 548.40H241.30" stroke="#111" stroke-width="1.0"/>
<text x="236.10" y="550.60" font-size="6.3" text-anchor="end" fill="#222" stroke="#222" stroke-width="0.25">0</text>
<path d="M239.40 545.72H241.30" stroke="#111" stroke-width="0.8"/>
<path d="M239.40 543.05H241.30" stroke="#111" stroke-width="0.8"/>
<path d="M239.40 540.37H241.30" stroke="#111" stroke-width="0.8"/>
<path d="M239.40 537.70H241.30" stroke="#111" stroke-width="0.8"/>
<path d="M238.30 535.02H241.30" stroke="#111" stroke-width="1.0"/>
<text x="236.10" y="537.22" font-size="6.3" text-anchor="end" fill="#222" stroke="#222" stroke-width="0.25">50</text>
<path d="M239.40 532.34H241.30" stroke="#111" stroke-width="0.8"/>
<path d="M239.40 529.67H241.30" stroke="#111" stroke-width="0.8"/>
<path d="M239.40 526.99H241.30" stroke="#111" stroke-width="0.8"/>
<path d="M239.40 524.32H241.30" stroke="#111" stroke-width="0.8"/>
<path d="M238.30 521.64H241.30" stroke="#111" stroke-width="1.0"/>
<text x="236.10" y="523.84" font-size="6.3" text-anchor="end" fill="#222" stroke="#222" stroke-width="0.25">100</text>
<path d="M239.40 518.96H241.30" stroke="#111" stroke-width="0.8"/>
<path d="M239.40 516.29H241.30" stroke="#111" stroke-width="0.8"/>
<path d="M239.40 513.61H241.30" stroke="#111" stroke-width="0.8"/>
<path d="M239.40 510.94H241.30" stroke="#111" stroke-width="0.8"/>
<path d="M238.30 508.26H241.30" stroke="#111" stroke-width="1.0"/>
<text x="236.10" y="510.46" font-size="6.3" text-anchor="end" fill="#222" stroke="#222" stroke-width="0.25">150</text>
<path d="M239.40 505.58H241.30" stroke="#111" stroke-width="0.8"/>
<path d="M239.40 502.91H241.30" stroke="#111" stroke-width="0.8"/>
<path d="M239.40 500.23H241.30" stroke="#111" stroke-width="0.8"/>
<path d="M239.40 497.56H241.30" stroke="#111" stroke-width="0.8"/>
<path d="M238.30 494.88H241.30" stroke="#111" stroke-width="1.0"/>
<text x="236.10" y="497.08" font-size="6.3" text-anchor="end" fill="#222" stroke="#222" stroke-width="0.25">200</text>
<path d="M239.40 492.20H241.30" stroke="#111" stroke-width="0.8"/>
<path d="M239.40 489.53H241.30" stroke="#111" stroke-width="0.8"/>
<path d="M239.40 486.85H241.30" stroke="#111" stroke-width="0.8"/>
<path d="M239.40 484.18H241.30" stroke="#111" stroke-width="0.8"/>
<path d="M238.30 481.50H241.30" stroke="#111" stroke-width="1.0"/>
<text x="236.10" y="483.70" font-size="6.3" text-anchor="end" fill="#222" stroke="#222" stroke-width="0.25">250</text>
<path d="M245.30 549.00V552.20" stroke="#111" stroke-width="1.0"/>
<path d="M255.30 549.00V552.20" stroke="#111" stroke-width="1.0"/>
<path d="M265.30 549.00V552.20" stroke="#111" stroke-width="1.0"/>
<path d="M277.60 549.00V552.20" stroke="#111" stroke-width="1.0"/>
<path d="M294.60 549.00V552.20" stroke="#111" stroke-width="1.0"/>
<path d="M310.80 549.00V552.20" stroke="#111" stroke-width="1.0"/>
<path d="M282.72 549.00V551.20" stroke="#111" stroke-width="0.7"/>
<path d="M285.71 549.00V551.20" stroke="#111" stroke-width="0.7"/>
<path d="M287.84 549.00V551.20" stroke="#111" stroke-width="0.7"/>
<path d="M289.48 549.00V551.20" stroke="#111" stroke-width="0.7"/>
<path d="M290.83 549.00V551.20" stroke="#111" stroke-width="0.7"/>
<path d="M291.97 549.00V551.20" stroke="#111" stroke-width="0.7"/>
<path d="M292.95 549.00V551.20" stroke="#111" stroke-width="0.7"/>
<path d="M293.82 549.00V551.20" stroke="#111" stroke-width="0.7"/>
<path d="M299.48 549.00V551.20" stroke="#111" stroke-width="0.7"/>
<path d="M302.33 549.00V551.20" stroke="#111" stroke-width="0.7"/>
<path d="M304.35 549.00V551.20" stroke="#111" stroke-width="0.7"/>
<path d="M305.92 549.00V551.20" stroke="#111" stroke-width="0.7"/>
<path d="M307.21 549.00V551.20" stroke="#111" stroke-width="0.7"/>
<path d="M308.29 549.00V551.20" stroke="#111" stroke-width="0.7"/>
<path d="M309.23 549.00V551.20" stroke="#111" stroke-width="0.7"/>
<path d="M310.06 549.00V551.20" stroke="#111" stroke-width="0.7"/>
<path d="M267.30 549.00V551.20" stroke="#111" stroke-width="0.7"/>
<path d="M269.30 549.00V551.20" stroke="#111" stroke-width="0.7"/>
<path d="M271.30 549.00V551.20" stroke="#111" stroke-width="0.7"/>
<path d="M273.30 549.00V551.20" stroke="#111" stroke-width="0.7"/>
<path d="M275.30 549.00V551.20" stroke="#111" stroke-width="0.7"/>
<path d="M247.30 549.00V551.20" stroke="#111" stroke-width="0.7"/>
<path d="M249.30 549.00V551.20" stroke="#111" stroke-width="0.7"/>
<path d="M251.30 549.00V551.20" stroke="#111" stroke-width="0.7"/>
<path d="M253.30 549.00V551.20" stroke="#111" stroke-width="0.7"/>
<path d="M257.30 549.00V551.20" stroke="#111" stroke-width="0.7"/>
<path d="M259.30 549.00V551.20" stroke="#111" stroke-width="0.7"/>
<path d="M261.30 549.00V551.20" stroke="#111" stroke-width="0.7"/>
<path d="M263.30 549.00V551.20" stroke="#111" stroke-width="0.7"/>
<text x="255.30" y="559.00" font-size="6.0" text-anchor="middle" fill="#222" stroke="#222" stroke-width="0.2">0</text>
<text x="277.60" y="559.00" font-size="6.0" text-anchor="middle" fill="#222" stroke="#222" stroke-width="0.2">10<tspan font-size="4" dy="-2.6">3</tspan></text>
<text x="294.60" y="559.00" font-size="6.0" text-anchor="middle" fill="#222" stroke="#222" stroke-width="0.2">10<tspan font-size="4" dy="-2.6">4</tspan></text>
<text x="310.80" y="559.00" font-size="6.0" text-anchor="middle" fill="#222" stroke="#222" stroke-width="0.2">10<tspan font-size="4" dy="-2.6">5</tspan></text>
<text x="279.85" y="570.20" font-size="9" text-anchor="middle" font-weight="bold" textLength="15.4" lengthAdjust="spacingAndGlyphs" fill="#1a1a1a">PD-L1</text>
<clipPath id="c338_475"><rect x="338.3" y="475.5" width="76.7" height="73.5"/></clipPath>
<g clip-path="url(#c338_475)">
<path d="M344.80 548.40L344.80 548.40L345.18 548.38L345.74 548.38L346.35 548.19L346.90 547.60L347.37 546.55L347.81 545.17L348.25 543.46L348.70 541.44L349.18 538.99L349.69 536.14L350.17 533.13L350.60 530.20L350.95 527.42L351.24 524.67L351.51 521.87L351.80 518.96L352.12 515.71L352.45 512.21L352.78 508.94L353.10 506.39L353.41 505.02L353.71 504.46L354.01 503.93L354.30 502.64L354.58 500.16L354.86 496.99L355.13 493.70L355.40 490.87L355.65 488.38L355.90 486.03L356.15 484.22L356.40 483.37L356.67 483.90L356.94 485.48L357.22 487.41L357.50 488.99L357.79 490.04L358.09 490.92L358.40 491.77L358.70 492.74L359.01 493.81L359.34 494.91L359.64 496.14L359.90 497.56L360.08 499.22L360.19 501.07L360.31 503.04L360.50 505.05L360.77 507.13L361.09 509.30L361.44 511.48L361.80 513.61L362.15 515.64L362.51 517.63L362.89 519.61L363.30 521.64L363.74 523.82L364.21 526.09L364.72 528.28L365.30 530.20L365.98 531.81L366.74 533.20L367.53 534.42L368.30 535.56L369.03 536.53L369.74 537.34L370.48 538.13L371.30 539.03L372.23 540.13L373.24 541.34L374.28 542.53L375.30 543.58L376.30 544.46L377.30 545.24L378.30 545.92L379.30 546.53L380.32 547.05L381.36 547.50L382.37 547.86L383.30 548.13L384.19 548.30L385.05 548.37L385.78 548.38L386.30 548.40L386.30 548.40Z" fill="#b90a3c" fill-opacity="0.55" stroke="#7a0020" stroke-opacity="1.0" stroke-width="1.1"/>
<path d="M346.30 548.40L346.30 548.40L346.74 548.11L347.38 547.71L348.08 547.13L348.70 546.26L349.21 545.08L349.68 543.63L350.14 541.96L350.60 540.10L351.08 538.03L351.56 535.74L352.03 533.29L352.50 530.74L352.95 528.00L353.40 525.09L353.85 522.18L354.30 519.50L354.77 517.00L355.25 514.62L355.73 512.46L356.20 510.67L356.66 509.26L357.12 508.16L357.57 507.38L358.00 506.92L358.39 506.87L358.76 507.21L359.12 507.73L359.50 508.26L359.87 508.62L360.24 508.96L360.63 509.55L361.10 510.67L361.69 512.58L362.37 515.07L363.04 517.70L363.60 520.03L364.00 522.02L364.29 523.88L364.57 525.55L364.90 526.99L365.28 528.16L365.69 529.10L366.15 529.85L366.70 530.47L367.38 530.88L368.16 531.07L368.99 531.24L369.80 531.54L370.60 531.97L371.41 532.46L372.21 533.09L373.00 533.95L373.76 535.13L374.50 536.58L375.24 538.11L376.00 539.57L376.80 540.99L377.64 542.43L378.45 543.78L379.20 544.92L379.85 545.82L380.43 546.54L381.00 547.12L381.60 547.60L382.32 547.95L383.10 548.17L383.81 548.30L384.30 548.40L384.30 548.40Z" fill="#284696" fill-opacity="0.45" stroke="#1a2a60" stroke-opacity="0.9" stroke-width="0.9"/>
<path d="M346.30 548.40L346.30 548.40L346.74 548.11L347.38 547.71L348.08 547.13L348.70 546.26L349.21 545.09L349.68 543.67L350.14 542.00L350.60 540.10L351.08 537.92L351.56 535.47L352.03 532.86L352.50 530.20L352.95 527.43L353.40 524.52L353.85 521.64L354.30 518.96L354.77 516.47L355.25 514.08L355.73 511.93L356.20 510.13L356.66 508.72L357.12 507.62L357.57 506.85L358.00 506.39L358.39 506.34L358.76 506.67L359.12 507.20L359.50 507.72L359.87 508.08L360.24 508.39L360.63 508.98L361.10 510.13L361.69 512.14L362.37 514.77L363.04 517.55L363.60 520.03L364.00 522.16L364.29 524.17L364.57 525.97L364.90 527.53L365.28 528.78L365.69 529.79L366.15 530.59L366.70 531.27L367.38 531.75L368.16 532.03L368.99 532.26L369.80 532.61L370.60 533.08L371.41 533.58L372.21 534.20L373.00 535.02L373.76 536.10L374.50 537.39L375.24 538.77L376.00 540.10L376.80 541.44L377.64 542.81L378.45 544.11L379.20 545.19L379.85 546.02L380.43 546.66L381.00 547.17L381.60 547.60L382.32 547.93L383.10 548.15L383.81 548.29L384.30 548.40L384.30 548.40Z" fill="#dc9632" fill-opacity="0.77" stroke="#dba234" stroke-opacity="0.95" stroke-width="0.9"/>
</g>
<rect x="338.30" y="475.50" width="76.70" height="73.50" fill="none" stroke="#111" stroke-width="1.6"/>
<path d="M335.30 548.40H338.30" stroke="#111" stroke-width="1.0"/>
<text x="333.10" y="550.60" font-size="6.3" text-anchor="end" fill="#222" stroke="#222" stroke-width="0.25">0</text>
<path d="M336.40 545.72H338.30" stroke="#111" stroke-width="0.8"/>
<path d="M336.40 543.05H338.30" stroke="#111" stroke-width="0.8"/>
<path d="M336.40 540.37H338.30" stroke="#111" stroke-width="0.8"/>
<path d="M336.40 537.70H338.30" stroke="#111" stroke-width="0.8"/>
<path d="M335.30 535.02H338.30" stroke="#111" stroke-width="1.0"/>
<text x="333.10" y="537.22" font-size="6.3" text-anchor="end" fill="#222" stroke="#222" stroke-width="0.25">50</text>
<path d="M336.40 532.34H338.30" stroke="#111" stroke-width="0.8"/>
<path d="M336.40 529.67H338.30" stroke="#111" stroke-width="0.8"/>
<path d="M336.40 526.99H338.30" stroke="#111" stroke-width="0.8"/>
<path d="M336.40 524.32H338.30" stroke="#111" stroke-width="0.8"/>
<path d="M335.30 521.64H338.30" stroke="#111" stroke-width="1.0"/>
<text x="333.10" y="523.84" font-size="6.3" text-anchor="end" fill="#222" stroke="#222" stroke-width="0.25">100</text>
<path d="M336.40 518.96H338.30" stroke="#111" stroke-width="0.8"/>
<path d="M336.40 516.29H338.30" stroke="#111" stroke-width="0.8"/>
<path d="M336.40 513.61H338.30" stroke="#111" stroke-width="0.8"/>
<path d="M336.40 510.94H338.30" stroke="#111" stroke-width="0.8"/>
<path d="M335.30 508.26H338.30" stroke="#111" stroke-width="1.0"/>
<text x="333.10" y="510.46" font-size="6.3" text-anchor="end" fill="#222" stroke="#222" stroke-width="0.25">150</text>
<path d="M336.40 505.58H338.30" stroke="#111" stroke-width="0.8"/>
<path d="M336.40 502.91H338.30" stroke="#111" stroke-width="0.8"/>
<path d="M336.40 500.23H338.30" stroke="#111" stroke-width="0.8"/>
<path d="M336.40 497.56H338.30" stroke="#111" stroke-width="0.8"/>
<path d="M335.30 494.88H338.30" stroke="#111" stroke-width="1.0"/>
<text x="333.10" y="497.08" font-size="6.3" text-anchor="end" fill="#222" stroke="#222" stroke-width="0.25">200</text>
<path d="M336.40 492.20H338.30" stroke="#111" stroke-width="0.8"/>
<path d="M336.40 489.53H338.30" stroke="#111" stroke-width="0.8"/>
<path d="M336.40 486.85H338.30" stroke="#111" stroke-width="0.8"/>
<path d="M336.40 484.18H338.30" stroke="#111" stroke-width="0.8"/>
<path d="M335.30 481.50H338.30" stroke="#111" stroke-width="1.0"/>
<text x="333.10" y="483.70" font-size="6.3" text-anchor="end" fill="#222" stroke="#222" stroke-width="0.25">250</text>
<path d="M342.30 549.00V552.20" stroke="#111" stroke-width="1.0"/>
<path d="M352.30 549.00V552.20" stroke="#111" stroke-width="1.0"/>
<path d="M362.30 549.00V552.20" stroke="#111" stroke-width="1.0"/>
<path d="M374.60 549.00V552.20" stroke="#111" stroke-width="1.0"/>
<path d="M391.60 549.00V552.20" stroke="#111" stroke-width="1.0"/>
<path d="M407.80 549.00V552.20" stroke="#111" stroke-width="1.0"/>
<path d="M379.72 549.00V551.20" stroke="#111" stroke-width="0.7"/>
<path d="M382.71 549.00V551.20" stroke="#111" stroke-width="0.7"/>
<path d="M384.84 549.00V551.20" stroke="#111" stroke-width="0.7"/>
<path d="M386.48 549.00V551.20" stroke="#111" stroke-width="0.7"/>
<path d="M387.83 549.00V551.20" stroke="#111" stroke-width="0.7"/>
<path d="M388.97 549.00V551.20" stroke="#111" stroke-width="0.7"/>
<path d="M389.95 549.00V551.20" stroke="#111" stroke-width="0.7"/>
<path d="M390.82 549.00V551.20" stroke="#111" stroke-width="0.7"/>
<path d="M396.48 549.00V551.20" stroke="#111" stroke-width="0.7"/>
<path d="M399.33 549.00V551.20" stroke="#111" stroke-width="0.7"/>
<path d="M401.35 549.00V551.20" stroke="#111" stroke-width="0.7"/>
<path d="M402.92 549.00V551.20" stroke="#111" stroke-width="0.7"/>
<path d="M404.21 549.00V551.20" stroke="#111" stroke-width="0.7"/>
<path d="M405.29 549.00V551.20" stroke="#111" stroke-width="0.7"/>
<path d="M406.23 549.00V551.20" stroke="#111" stroke-width="0.7"/>
<path d="M407.06 549.00V551.20" stroke="#111" stroke-width="0.7"/>
<path d="M364.30 549.00V551.20" stroke="#111" stroke-width="0.7"/>
<path d="M366.30 549.00V551.20" stroke="#111" stroke-width="0.7"/>
<path d="M368.30 549.00V551.20" stroke="#111" stroke-width="0.7"/>
<path d="M370.30 549.00V551.20" stroke="#111" stroke-width="0.7"/>
<path d="M372.30 549.00V551.20" stroke="#111" stroke-width="0.7"/>
<path d="M344.30 549.00V551.20" stroke="#111" stroke-width="0.7"/>
<path d="M346.30 549.00V551.20" stroke="#111" stroke-width="0.7"/>
<path d="M348.30 549.00V551.20" stroke="#111" stroke-width="0.7"/>
<path d="M350.30 549.00V551.20" stroke="#111" stroke-width="0.7"/>
<path d="M354.30 549.00V551.20" stroke="#111" stroke-width="0.7"/>
<path d="M356.30 549.00V551.20" stroke="#111" stroke-width="0.7"/>
<path d="M358.30 549.00V551.20" stroke="#111" stroke-width="0.7"/>
<path d="M360.30 549.00V551.20" stroke="#111" stroke-width="0.7"/>
<text x="352.30" y="559.00" font-size="6.0" text-anchor="middle" fill="#222" stroke="#222" stroke-width="0.2">0</text>
<text x="374.60" y="559.00" font-size="6.0" text-anchor="middle" fill="#222" stroke="#222" stroke-width="0.2">10<tspan font-size="4" dy="-2.6">3</tspan></text>
<text x="391.60" y="559.00" font-size="6.0" text-anchor="middle" fill="#222" stroke="#222" stroke-width="0.2">10<tspan font-size="4" dy="-2.6">4</tspan></text>
<text x="407.80" y="559.00" font-size="6.0" text-anchor="middle" fill="#222" stroke="#222" stroke-width="0.2">10<tspan font-size="4" dy="-2.6">5</tspan></text>
<text x="376.85" y="570.20" font-size="9" text-anchor="middle" font-weight="bold" textLength="15.4" lengthAdjust="spacingAndGlyphs" fill="#1a1a1a">PD-L1</text>
<clipPath id="c434_475"><rect x="434.6" y="475.5" width="76.7" height="73.5"/></clipPath>
<g clip-path="url(#c434_475)">
<path d="M441.60 548.40L441.60 548.40L441.96 548.32L442.48 548.23L443.03 548.02L443.50 547.60L443.83 547.04L444.10 546.38L444.37 545.38L444.70 543.85L445.13 541.62L445.61 538.85L446.11 535.77L446.60 532.61L447.09 529.32L447.59 525.80L448.07 522.28L448.50 518.96L448.85 515.78L449.14 512.66L449.42 509.81L449.70 507.46L450.00 505.95L450.29 505.07L450.59 504.18L450.90 502.64L451.22 500.09L451.55 496.92L451.88 493.67L452.20 490.87L452.51 488.36L452.81 485.97L453.10 484.15L453.40 483.37L453.70 484.13L453.99 486.05L454.29 488.30L454.60 490.06L454.92 491.04L455.25 491.70L455.58 492.35L455.90 493.27L456.21 494.54L456.52 496.00L456.82 497.63L457.10 499.43L457.35 501.42L457.58 503.59L457.82 505.90L458.10 508.26L458.43 510.70L458.79 513.23L459.18 515.82L459.60 518.43L460.04 521.18L460.51 524.05L461.02 526.78L461.60 529.13L462.28 530.99L463.04 532.51L463.83 533.81L464.60 535.02L465.33 536.08L466.04 536.96L466.78 537.80L467.60 538.77L468.53 539.94L469.54 541.22L470.58 542.49L471.60 543.58L472.60 544.48L473.60 545.26L474.60 545.93L475.60 546.53L476.62 547.05L477.66 547.50L478.67 547.86L479.60 548.13L480.49 548.30L481.35 548.37L482.08 548.38L482.60 548.40L482.60 548.40Z" fill="#b90a3c" fill-opacity="0.55" stroke="#7a0020" stroke-opacity="1.0" stroke-width="1.1"/>
<path d="M443.10 548.40L443.10 548.40L443.50 548.11L444.08 547.71L444.72 547.13L445.30 546.26L445.80 545.08L446.27 543.63L446.73 541.96L447.20 540.10L447.68 538.06L448.16 535.81L448.63 533.36L449.10 530.74L449.55 527.82L450.00 524.63L450.45 521.42L450.90 518.43L451.38 515.60L451.88 512.86L452.36 510.36L452.80 508.26L453.17 506.66L453.49 505.45L453.79 504.51L454.10 503.71L454.43 503.00L454.76 502.46L455.08 502.14L455.40 502.11L455.71 502.44L456.01 503.08L456.30 503.90L456.60 504.78L456.89 505.61L457.16 506.49L457.46 507.58L457.80 509.06L458.21 511.13L458.66 513.63L459.13 516.26L459.60 518.70L460.07 520.98L460.54 523.25L461.02 525.31L461.50 526.99L461.95 528.16L462.38 528.93L462.84 529.54L463.40 530.20L464.09 530.97L464.88 531.73L465.70 532.45L466.50 533.15L467.28 533.72L468.05 534.20L468.83 534.76L469.60 535.56L470.38 536.72L471.15 538.13L471.93 539.59L472.70 540.91L473.48 542.04L474.25 543.08L475.03 544.04L475.80 544.92L476.60 545.73L477.41 546.46L478.19 547.09L478.90 547.60L479.56 547.95L480.19 548.17L480.73 548.30L481.10 548.40L481.10 548.40Z" fill="#284696" fill-opacity="0.45" stroke="#1a2a60" stroke-opacity="0.9" stroke-width="0.9"/>
<path d="M443.10 548.40L443.10 548.40L443.50 548.11L444.08 547.71L444.72 547.13L445.30 546.26L445.80 545.09L446.27 543.67L446.73 542.00L447.20 540.10L447.68 537.96L448.16 535.56L448.63 532.95L449.10 530.20L449.55 527.19L450.00 523.93L450.45 520.66L450.90 517.63L451.38 514.78L451.88 512.04L452.36 509.55L452.80 507.46L453.17 505.86L453.49 504.65L453.79 503.71L454.10 502.91L454.43 502.19L454.76 501.64L455.08 501.31L455.40 501.30L455.71 501.68L456.01 502.39L456.30 503.29L456.60 504.25L456.89 505.14L457.16 506.09L457.46 507.24L457.80 508.80L458.21 510.92L458.66 513.48L459.13 516.17L459.60 518.70L460.07 521.10L460.54 523.50L461.02 525.70L461.50 527.53L461.95 528.83L462.38 529.75L462.84 530.49L463.40 531.27L464.09 532.15L464.88 533.00L465.70 533.79L466.50 534.48L467.28 534.97L468.05 535.30L468.83 535.70L469.60 536.36L470.38 537.43L471.15 538.78L471.93 540.19L472.70 541.44L473.48 542.50L474.25 543.48L475.03 544.38L475.80 545.19L476.60 545.92L477.41 546.58L478.19 547.14L478.90 547.60L479.56 547.93L480.19 548.15L480.73 548.29L481.10 548.40L481.10 548.40Z" fill="#dc9632" fill-opacity="0.77" stroke="#dba234" stroke-opacity="0.95" stroke-width="0.9"/>
</g>
<rect x="434.60" y="475.50" width="76.70" height="73.50" fill="none" stroke="#111" stroke-width="1.6"/>
<path d="M431.60 548.40H434.60" stroke="#111" stroke-width="1.0"/>
<text x="429.40" y="550.60" font-size="6.3" text-anchor="end" fill="#222" stroke="#222" stroke-width="0.25">0</text>
<path d="M432.70 545.72H434.60" stroke="#111" stroke-width="0.8"/>
<path d="M432.70 543.05H434.60" stroke="#111" stroke-width="0.8"/>
<path d="M432.70 540.37H434.60" stroke="#111" stroke-width="0.8"/>
<path d="M432.70 537.70H434.60" stroke="#111" stroke-width="0.8"/>
<path d="M431.60 535.02H434.60" stroke="#111" stroke-width="1.0"/>
<text x="429.40" y="537.22" font-size="6.3" text-anchor="end" fill="#222" stroke="#222" stroke-width="0.25">50</text>
<path d="M432.70 532.34H434.60" stroke="#111" stroke-width="0.8"/>
<path d="M432.70 529.67H434.60" stroke="#111" stroke-width="0.8"/>
<path d="M432.70 526.99H434.60" stroke="#111" stroke-width="0.8"/>
<path d="M432.70 524.32H434.60" stroke="#111" stroke-width="0.8"/>
<path d="M431.60 521.64H434.60" stroke="#111" stroke-width="1.0"/>
<text x="429.40" y="523.84" font-size="6.3" text-anchor="end" fill="#222" stroke="#222" stroke-width="0.25">100</text>
<path d="M432.70 518.96H434.60" stroke="#111" stroke-width="0.8"/>
<path d="M432.70 516.29H434.60" stroke="#111" stroke-width="0.8"/>
<path d="M432.70 513.61H434.60" stroke="#111" stroke-width="0.8"/>
<path d="M432.70 510.94H434.60" stroke="#111" stroke-width="0.8"/>
<path d="M431.60 508.26H434.60" stroke="#111" stroke-width="1.0"/>
<text x="429.40" y="510.46" font-size="6.3" text-anchor="end" fill="#222" stroke="#222" stroke-width="0.25">150</text>
<path d="M432.70 505.58H434.60" stroke="#111" stroke-width="0.8"/>
<path d="M432.70 502.91H434.60" stroke="#111" stroke-width="0.8"/>
<path d="M432.70 500.23H434.60" stroke="#111" stroke-width="0.8"/>
<path d="M432.70 497.56H434.60" stroke="#111" stroke-width="0.8"/>
<path d="M431.60 494.88H434.60" stroke="#111" stroke-width="1.0"/>
<text x="429.40" y="497.08" font-size="6.3" text-anchor="end" fill="#222" stroke="#222" stroke-width="0.25">200</text>
<path d="M432.70 492.20H434.60" stroke="#111" stroke-width="0.8"/>
<path d="M432.70 489.53H434.60" stroke="#111" stroke-width="0.8"/>
<path d="M432.70 486.85H434.60" stroke="#111" stroke-width="0.8"/>
<path d="M432.70 484.18H434.60" stroke="#111" stroke-width="0.8"/>
<path d="M431.60 481.50H434.60" stroke="#111" stroke-width="1.0"/>
<text x="429.40" y="483.70" font-size="6.3" text-anchor="end" fill="#222" stroke="#222" stroke-width="0.25">250</text>
<path d="M438.60 549.00V552.20" stroke="#111" stroke-width="1.0"/>
<path d="M448.60 549.00V552.20" stroke="#111" stroke-width="1.0"/>
<path d="M458.60 549.00V552.20" stroke="#111" stroke-width="1.0"/>
<path d="M470.90 549.00V552.20" stroke="#111" stroke-width="1.0"/>
<path d="M487.90 549.00V552.20" stroke="#111" stroke-width="1.0"/>
<path d="M504.10 549.00V552.20" stroke="#111" stroke-width="1.0"/>
<path d="M476.02 549.00V551.20" stroke="#111" stroke-width="0.7"/>
<path d="M479.01 549.00V551.20" stroke="#111" stroke-width="0.7"/>
<path d="M481.14 549.00V551.20" stroke="#111" stroke-width="0.7"/>
<path d="M482.78 549.00V551.20" stroke="#111" stroke-width="0.7"/>
<path d="M484.13 549.00V551.20" stroke="#111" stroke-width="0.7"/>
<path d="M485.27 549.00V551.20" stroke="#111" stroke-width="0.7"/>
<path d="M486.25 549.00V551.20" stroke="#111" stroke-width="0.7"/>
<path d="M487.12 549.00V551.20" stroke="#111" stroke-width="0.7"/>
<path d="M492.78 549.00V551.20" stroke="#111" stroke-width="0.7"/>
<path d="M495.63 549.00V551.20" stroke="#111" stroke-width="0.7"/>
<path d="M497.65 549.00V551.20" stroke="#111" stroke-width="0.7"/>
<path d="M499.22 549.00V551.20" stroke="#111" stroke-width="0.7"/>
<path d="M500.51 549.00V551.20" stroke="#111" stroke-width="0.7"/>
<path d="M501.59 549.00V551.20" stroke="#111" stroke-width="0.7"/>
<path d="M502.53 549.00V551.20" stroke="#111" stroke-width="0.7"/>
<path d="M503.36 549.00V551.20" stroke="#111" stroke-width="0.7"/>
<path d="M460.60 549.00V551.20" stroke="#111" stroke-width="0.7"/>
<path d="M462.60 549.00V551.20" stroke="#111" stroke-width="0.7"/>
<path d="M464.60 549.00V551.20" stroke="#111" stroke-width="0.7"/>
<path d="M466.60 549.00V551.20" stroke="#111" stroke-width="0.7"/>
<path d="M468.60 549.00V551.20" stroke="#111" stroke-width="0.7"/>
<path d="M440.60 549.00V551.20" stroke="#111" stroke-width="0.7"/>
<path d="M442.60 549.00V551.20" stroke="#111" stroke-width="0.7"/>
<path d="M444.60 549.00V551.20" stroke="#111" stroke-width="0.7"/>
<path d="M446.60 549.00V551.20" stroke="#111" stroke-width="0.7"/>
<path d="M450.60 549.00V551.20" stroke="#111" stroke-width="0.7"/>
<path d="M452.60 549.00V551.20" stroke="#111" stroke-width="0.7"/>
<path d="M454.60 549.00V551.20" stroke="#111" stroke-width="0.7"/>
<path d="M456.60 549.00V551.20" stroke="#111" stroke-width="0.7"/>
<text x="448.60" y="559.00" font-size="6.0" text-anchor="middle" fill="#222" stroke="#222" stroke-width="0.2">0</text>
<text x="470.90" y="559.00" font-size="6.0" text-anchor="middle" fill="#222" stroke="#222" stroke-width="0.2">10<tspan font-size="4" dy="-2.6">3</tspan></text>
<text x="487.90" y="559.00" font-size="6.0" text-anchor="middle" fill="#222" stroke="#222" stroke-width="0.2">10<tspan font-size="4" dy="-2.6">4</tspan></text>
<text x="504.10" y="559.00" font-size="6.0" text-anchor="middle" fill="#222" stroke="#222" stroke-width="0.2">10<tspan font-size="4" dy="-2.6">5</tspan></text>
<text x="473.15" y="570.20" font-size="9" text-anchor="middle" font-weight="bold" textLength="15.4" lengthAdjust="spacingAndGlyphs" fill="#1a1a1a">PD-L1</text>
<text x="14.80" y="408.20" font-size="9.3" text-anchor="middle" textLength="28.2" lengthAdjust="spacingAndGlyphs" transform="rotate(-90 14.8 408.2)" fill="#111" stroke="#111" stroke-width="0.3">BCWM</text>
<text x="26.00" y="408.55" font-size="8.5" text-anchor="middle" font-weight="bold" textLength="15.3" lengthAdjust="spacingAndGlyphs" transform="rotate(-90 26.0 408.55)" fill="#111">Count</text>
<text x="14.80" y="512.35" font-size="9.3" text-anchor="middle" textLength="26.5" lengthAdjust="spacingAndGlyphs" transform="rotate(-90 14.8 512.35)" fill="#111" stroke="#111" stroke-width="0.3">MWCL</text>
<text x="25.80" y="512.35" font-size="8.5" text-anchor="middle" font-weight="bold" textLength="14.9" lengthAdjust="spacingAndGlyphs" transform="rotate(-90 25.8 512.35)" fill="#111">Count</text>
<rect x="168" y="340" width="9" height="9" fill="#aa0028"/>
<text x="180.50" y="346.80" font-size="6.4" textLength="19.5" lengthAdjust="spacingAndGlyphs" fill="#222" stroke="#222" stroke-width="0.15">Isotype</text>
<rect x="206.5" y="340" width="9" height="9" fill="#2d4b7d"/>
<text x="219.00" y="346.80" font-size="6.4" textLength="63.5" lengthAdjust="spacingAndGlyphs" fill="#222" stroke="#222" stroke-width="0.15">Control untreated cells</text>
<rect x="288.5" y="340" width="9" height="9" fill="#dc8c19"/>
<text x="301.50" y="346.80" font-size="6.4" textLength="61" lengthAdjust="spacingAndGlyphs" fill="#222" stroke="#222" stroke-width="0.15">Cytokine-treated cells</text>
<rect x="0.5" y="0.5" width="518.8" height="578" fill="none" stroke="#000" stroke-width="1.2"/>
<rect x="0" y="578" width="520" height="2" fill="#000"/>
</svg></body></html>
